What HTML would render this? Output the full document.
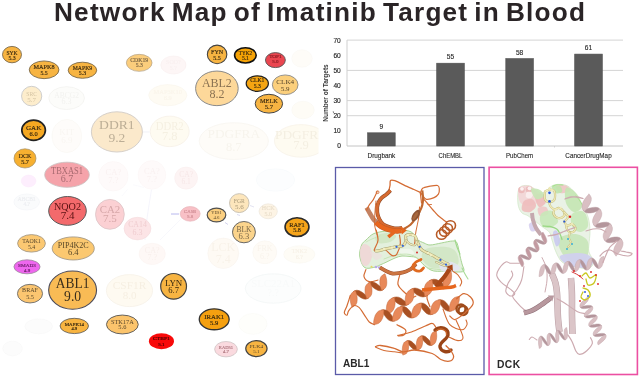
<!DOCTYPE html>
<html><head><meta charset="utf-8"><style>
html,body{margin:0;padding:0;background:#fff;width:640px;height:377px;overflow:hidden}
svg{position:absolute;left:0;top:0;display:block;will-change:transform}
.ser text{font-family:"Liberation Serif",serif;text-anchor:middle}
.sans text{font-family:"Liberation Sans",sans-serif}
</style></head><body>
<svg width="640" height="377" viewBox="0 0 640 377">
<rect width="640" height="377" fill="#fff"/>
<text x="54" y="20.7" font-family="Liberation Sans, sans-serif" font-weight="bold" font-size="26.2" letter-spacing="1.21" word-spacing="-2.5" fill="#2a2426">Network Map of Imatinib Target in Blood</text>
<defs><clipPath id="net"><rect x="0" y="28" width="318.5" height="349"/></clipPath></defs>
<g class="ser" clip-path="url(#net)">
<path d="M151.5,189.5 L149,205 L146.5,222 L145,240" fill="none" stroke="#f0f0fa" stroke-width="0.7"/><path d="M160,240 L168,232 L178,222 L182,218" fill="none" stroke="#f4f4fa" stroke-width="0.6"/><path d="M171,214 L179,214" fill="none" stroke="#b8b8ee" stroke-width="1.0"/><path d="M225,222.5 L228,224.5" fill="none" stroke="#c8c8e8" stroke-width="0.8"/><path d="M237,214.5 L240,215.5" fill="none" stroke="#d0d0ea" stroke-width="0.8"/><path d="M250,205.5 L254,207" fill="none" stroke="#dcdcee" stroke-width="0.8"/><path d="M143,132 L149.5,132" fill="none" stroke="#ececf4" stroke-width="0.7"/><path d="M133,184.7 L144,187.5" fill="none" stroke="#f6f6fb" stroke-width="0.6"/><path d="M127.5,189.4 L122,196" fill="none" stroke="#f6f6fb" stroke-width="0.6"/><path d="M176,224 L168,232" fill="none" stroke="#f6f6fb" stroke-width="0.6"/>
<g><ellipse cx="173.4" cy="65" rx="12.60" ry="9.00" fill="#fdf6f6" stroke="#f9efef" stroke-width="0.6"/><text x="173.4" y="64.01" font-size="6" fill="#f9f0f0" stroke="#f9f0f0" stroke-width="0.15">SOD?</text><text x="173.4" y="69.75" font-size="6" fill="#f9f0f0" stroke="#f9f0f0" stroke-width="0.15">5.?</text></g>
<g><ellipse cx="167.8" cy="95.2" rx="19.10" ry="10.60" fill="#fefbf3" stroke="#f9f5ec" stroke-width="0.6"/><text x="167.8" y="94.13" font-size="6.5" fill="#faf5eb" stroke="#faf5eb" stroke-width="0.15">MAP3K10</text><text x="167.8" y="100.35" font-size="6.5" fill="#faf5eb" stroke="#faf5eb" stroke-width="0.15">6.9</text></g>
<g><ellipse cx="302" cy="58.5" rx="10.25" ry="8.75" fill="#fefcf8" stroke="#f9f6f2" stroke-width="0.5"/></g>
<g><ellipse cx="303" cy="110" rx="11.25" ry="8.75" fill="#fefcf6" stroke="#f9f6f0" stroke-width="0.5"/></g>
<g><ellipse cx="31.65" cy="96.1" rx="10.10" ry="9.80" fill="#fdedcc" stroke="#cacaca" stroke-width="0.9"/><text x="31.65" y="95.80" font-size="7" fill="#d4c4a4" textLength="10.6" lengthAdjust="spacingAndGlyphs">SRC</text><text x="31.65" y="101.70" font-size="7" fill="#d4c4a4">5.7</text></g>
<g><ellipse cx="66.6" cy="98.1" rx="17.85" ry="11.40" fill="#fcfcfa" stroke="#f1f1ee" stroke-width="0.7"/><text x="66.6" y="97.60" font-size="8" fill="#f2f2ef" textLength="24.6" lengthAdjust="spacingAndGlyphs">ABCG2</text><text x="66.6" y="104.00" font-size="8" fill="#f2f2ef">6.3</text></g>
<g><ellipse cx="66.8" cy="136" rx="14.70" ry="16.60" fill="#fefcfa" stroke="#f9f6f2" stroke-width="0.6"/><text x="66.8" y="134.51" font-size="9" fill="#f9f6f2">KIT</text><text x="66.8" y="143.13" font-size="9" fill="#f9f6f2">6.9</text></g>
<g><ellipse cx="169.7" cy="131.4" rx="19.45" ry="15.25" fill="#fefbf1" stroke="#f7f2e9" stroke-width="0.9"/><text x="169.7" y="130.00" font-size="12.5" fill="#f5f0e2" textLength="28.1" lengthAdjust="spacingAndGlyphs">DDR2</text><text x="169.7" y="140.10" font-size="12.5" fill="#f5f0e2">7.8</text></g>
<g><ellipse cx="233.8" cy="141.1" rx="34.60" ry="18.40" fill="#fefcf8" stroke="#f8f5f0" stroke-width="0.8"/><text x="233.8" y="138.00" font-size="12.5" fill="#f7f4ed" textLength="52.5" lengthAdjust="spacingAndGlyphs">PDGFRA</text><text x="233.8" y="151.00" font-size="12.5" fill="#f7f4ed">8.7</text></g>
<g><ellipse cx="301" cy="140.9" rx="26.60" ry="16.30" fill="#fefbf1" stroke="#f7f2ea" stroke-width="0.8"/><text x="301" y="139.10" font-size="12.5" fill="#f4efe2" textLength="52" lengthAdjust="spacingAndGlyphs">PDGFRB</text><text x="301" y="149.20" font-size="12.5" fill="#f4efe2">7.9</text></g>
<g><ellipse cx="28.6" cy="181" rx="7.35" ry="5.95" fill="#fdeefd" stroke="#fbe8fb" stroke-width="0.5"/></g>
<g><ellipse cx="113.4" cy="176.3" rx="14.75" ry="14.75" fill="#fefafa" stroke="#faf4f4" stroke-width="0.5"/><text x="113.4" y="174.90" font-size="8.5" fill="#f9f1f1">CA?</text><text x="113.4" y="183.03" font-size="8.5" fill="#f9f1f1">7.?</text></g>
<g><ellipse cx="151.9" cy="174.9" rx="13.85" ry="14.35" fill="#fefafa" stroke="#faf4f4" stroke-width="0.5"/><text x="151.9" y="173.50" font-size="8.5" fill="#f9f1f1">CA?</text><text x="151.9" y="181.63" font-size="8.5" fill="#f9f1f1">7.?</text></g>
<g><ellipse cx="186.1" cy="178.1" rx="11.45" ry="11.05" fill="#fdf4f4" stroke="#f9eded" stroke-width="0.5"/><text x="186.1" y="176.86" font-size="7.5" fill="#f6e7e7">CA?</text><text x="186.1" y="184.04" font-size="7.5" fill="#f6e7e7">6.1</text></g>
<g><ellipse cx="275.5" cy="180" rx="19.25" ry="11.25" fill="#fcfdfe" stroke="#f5f8fa" stroke-width="0.5"/></g>
<g><ellipse cx="26.7" cy="202" rx="12.85" ry="8.05" fill="#fafbfc" stroke="#f1f3f6" stroke-width="0.5"/><text x="26.7" y="201.09" font-size="5.5" fill="#eceef1" stroke="#eceef1" stroke-width="0.15">ABCB1</text><text x="26.7" y="206.36" font-size="5.5" fill="#eceef1" stroke="#eceef1" stroke-width="0.15">4.?</text></g>
<g><ellipse cx="137.5" cy="228.6" rx="13.40" ry="11.30" fill="#fce4e6" stroke="#f3dadc" stroke-width="0.6"/><text x="137.5" y="227.28" font-size="8" fill="#f0cdd0" textLength="18.7" lengthAdjust="spacingAndGlyphs">CA14</text><text x="137.5" y="234.94" font-size="8" fill="#f0cdd0">6.3</text></g>
<g><ellipse cx="268.2" cy="211.3" rx="9.15" ry="7.45" fill="#fdf4e5" stroke="#ede6dc" stroke-width="0.7"/><text x="268.2" y="210.31" font-size="6" fill="#eadfcc" stroke="#eadfcc" stroke-width="0.15">HCK</text><text x="268.2" y="216.05" font-size="6" fill="#eadfcc" stroke="#eadfcc" stroke-width="0.15">5.0</text></g>
<g><ellipse cx="223.25" cy="253.3" rx="15.45" ry="15.20" fill="#fefaf4" stroke="#f8f3ee" stroke-width="0.6"/><text x="223.25" y="251.32" font-size="12" fill="#f8f2e9">LCK</text><text x="223.25" y="262.80" font-size="12" fill="#f8f2e9">7.4</text></g>
<g><ellipse cx="264.8" cy="252.3" rx="12.00" ry="11.45" fill="#fefbf6" stroke="#f8f4ef" stroke-width="0.5"/><text x="264.8" y="250.98" font-size="8" fill="#f8f3eb">FRK</text><text x="264.8" y="258.64" font-size="8" fill="#f8f3eb">6.?</text></g>
<g><ellipse cx="299.3" cy="254.4" rx="15.65" ry="8.75" fill="#fefcf6" stroke="#f8f6f1" stroke-width="0.5"/><text x="299.3" y="253.41" font-size="6" fill="#f7f2e8" stroke="#f7f2e8" stroke-width="0.15">TNK2</text><text x="299.3" y="259.15" font-size="6" fill="#f7f2e8" stroke="#f7f2e8" stroke-width="0.15">6.?</text></g>
<g><ellipse cx="129.5" cy="290.6" rx="23.10" ry="16.00" fill="#fefaf1" stroke="#f6f1e8" stroke-width="0.8"/><text x="129.5" y="288.79" font-size="11" fill="#f6efe2" textLength="33.4" lengthAdjust="spacingAndGlyphs">CSF1R</text><text x="129.5" y="299.31" font-size="11" fill="#f6efe2">8.0</text></g>
<g><ellipse cx="273.2" cy="288.5" rx="27.80" ry="14.70" fill="#fcfdfd" stroke="#eff3f3" stroke-width="0.6"/><text x="273.2" y="286.85" font-size="10" fill="#f8fafa" textLength="44" lengthAdjust="spacingAndGlyphs">SLC22A1</text><text x="273.2" y="296.42" font-size="10" fill="#f8fafa">?.?</text></g>
<g><ellipse cx="38.7" cy="326.3" rx="13.80" ry="7.50" fill="#fcfcfc" stroke="#f5f5f5" stroke-width="0.4"/></g>
<g><ellipse cx="12.5" cy="348.5" rx="9.80" ry="7.30" fill="#fcfcfc" stroke="#f6f6f6" stroke-width="0.4"/></g>
<g><ellipse cx="252.9" cy="323.9" rx="14.15" ry="10.45" fill="#fefefb" stroke="#f8f8f4" stroke-width="0.5"/></g>
<g><ellipse cx="152.2" cy="253.9" rx="13.15" ry="10.65" fill="#fef8f6" stroke="#faf2f0" stroke-width="0.5"/><text x="152.2" y="252.58" font-size="8" fill="#f8efec">CA?</text><text x="152.2" y="260.24" font-size="8" fill="#f8efec">7.?</text></g>
<g><ellipse cx="12" cy="54.6" rx="9.50" ry="8.20" fill="#f7b442" stroke="#6a5a40" stroke-width="0.8"/><text x="12" y="54.50" font-size="5.8" fill="#35260e" textLength="11.1" lengthAdjust="spacingAndGlyphs" stroke="#35260e" stroke-width="0.15">SYK</text><text x="12" y="59.80" font-size="5.8" fill="#35260e" stroke="#35260e" stroke-width="0.15">5.3</text></g>
<g><ellipse cx="44.1" cy="69.8" rx="14.85" ry="8.85" fill="#f7b442" stroke="#6a5a40" stroke-width="0.8"/><text x="44.1" y="68.90" font-size="5.8" fill="#35260e" textLength="21.2" lengthAdjust="spacingAndGlyphs" stroke="#35260e" stroke-width="0.15">MAPK8</text><text x="44.1" y="74.70" font-size="5.8" fill="#35260e" stroke="#35260e" stroke-width="0.15">5.5</text></g>
<g><ellipse cx="82.45" cy="70.25" rx="14.25" ry="8.05" fill="#f7b442" stroke="#6a5a40" stroke-width="0.8"/><text x="82.45" y="69.80" font-size="5.8" fill="#35260e" textLength="19.5" lengthAdjust="spacingAndGlyphs" stroke="#35260e" stroke-width="0.15">MAPK9</text><text x="82.45" y="74.90" font-size="5.8" fill="#35260e" stroke="#35260e" stroke-width="0.15">5.3</text></g>
<g><ellipse cx="139.2" cy="62.85" rx="12.85" ry="8.50" fill="#fbcd7c" stroke="#b0a088" stroke-width="0.7"/><text x="139.2" y="62.20" font-size="5.6" fill="#7a6444" textLength="17.9" lengthAdjust="spacingAndGlyphs" stroke="#7a6444" stroke-width="0.15">CDK19</text><text x="139.2" y="66.60" font-size="5.6" fill="#7a6444" stroke="#7a6444" stroke-width="0.15">5.3</text></g>
<g><ellipse cx="217.1" cy="54.4" rx="9.75" ry="9.30" fill="#f7b442" stroke="#444" stroke-width="1.1"/><text x="217.1" y="54.00" font-size="6" fill="#35260e" textLength="12.2" lengthAdjust="spacingAndGlyphs" stroke="#35260e" stroke-width="0.15">FYN</text><text x="217.1" y="59.60" font-size="6" fill="#35260e" stroke="#35260e" stroke-width="0.15">5.5</text></g>
<g><ellipse cx="245.4" cy="55.35" rx="10.80" ry="7.65" fill="#f5a205" stroke="#111" stroke-width="1.6"/><text x="245.4" y="54.90" font-size="5.6" fill="#35260e" textLength="13.1" lengthAdjust="spacingAndGlyphs" stroke="#35260e" stroke-width="0.15">TYK2</text><text x="245.4" y="60.00" font-size="5.6" fill="#35260e" stroke="#35260e" stroke-width="0.15">5.1</text></g>
<g><ellipse cx="275.4" cy="60.1" rx="9.95" ry="7.50" fill="#ea4650" stroke="#555" stroke-width="0.9"/><text x="275.4" y="57.60" font-size="5" fill="#8a1a22" textLength="12.4" lengthAdjust="spacingAndGlyphs" stroke="#8a1a22" stroke-width="0.15">TOP1</text><text x="275.4" y="63.10" font-size="5" fill="#8a1a22" stroke="#8a1a22" stroke-width="0.15">5.0</text></g>
<g><ellipse cx="216.9" cy="88.35" rx="21.30" ry="17.30" fill="#fdd89a" stroke="#8a8a8a" stroke-width="1.0"/><text x="216.9" y="86.90" font-size="12" fill="#8a7252" textLength="29.9" lengthAdjust="spacingAndGlyphs">ABL2</text><text x="216.9" y="97.60" font-size="12" fill="#8a7252">8.2</text></g>
<g><ellipse cx="257.3" cy="83.6" rx="11.10" ry="7.80" fill="#f5a512" stroke="#222" stroke-width="1.2"/><text x="257.3" y="82.10" font-size="5.6" fill="#35260e" textLength="14.2" lengthAdjust="spacingAndGlyphs" stroke="#35260e" stroke-width="0.15">CLK1</text><text x="257.3" y="87.60" font-size="5.6" fill="#35260e" stroke="#35260e" stroke-width="0.15">5.3</text></g>
<g><ellipse cx="285.2" cy="84.8" rx="12.85" ry="9.85" fill="#fbcf7c" stroke="#8a8a8a" stroke-width="0.9"/><text x="285.2" y="84.30" font-size="7" fill="#56452a" textLength="18" lengthAdjust="spacingAndGlyphs">CLK4</text><text x="285.2" y="90.70" font-size="7" fill="#56452a">5.9</text></g>
<g><ellipse cx="268.9" cy="103.7" rx="13.70" ry="9.40" fill="#f7b442" stroke="#444" stroke-width="1.0"/><text x="268.9" y="103.20" font-size="6.6" fill="#35260e" textLength="18" lengthAdjust="spacingAndGlyphs" stroke="#35260e" stroke-width="0.15">MELK</text><text x="268.9" y="109.20" font-size="6.6" fill="#35260e" stroke="#35260e" stroke-width="0.15">5.7</text></g>
<g><ellipse cx="33.6" cy="130.3" rx="11.80" ry="10.10" fill="#f5a822" stroke="#222" stroke-width="1.7"/><text x="33.6" y="129.90" font-size="6.4" fill="#35260e" textLength="15.4" lengthAdjust="spacingAndGlyphs" stroke="#35260e" stroke-width="0.15">GAK</text><text x="33.6" y="135.90" font-size="6.4" fill="#35260e" stroke="#35260e" stroke-width="0.15">6.0</text></g>
<g><ellipse cx="25" cy="158.4" rx="11.00" ry="9.60" fill="#f7b030" stroke="#a09070" stroke-width="0.7"/><text x="25" y="157.80" font-size="6.2" fill="#35260e" textLength="12.5" lengthAdjust="spacingAndGlyphs" stroke="#35260e" stroke-width="0.15">DCK</text><text x="25" y="163.80" font-size="6.2" fill="#35260e" stroke="#35260e" stroke-width="0.15">5.7</text></g>
<g><ellipse cx="116.9" cy="131.9" rx="25.50" ry="20.10" fill="#fbe9cb" stroke="#d6d0ca" stroke-width="1.0"/><text x="116.9" y="128.50" font-size="13.5" fill="#bcae96" textLength="35.6" lengthAdjust="spacingAndGlyphs">DDR1</text><text x="116.9" y="141.60" font-size="13.5" fill="#bcae96">9.2</text></g>
<g><ellipse cx="67" cy="174.75" rx="22.30" ry="12.55" fill="#f5a3aa" stroke="#c8bcbc" stroke-width="0.8"/><text x="67" y="173.80" font-size="10" fill="#a86a70" textLength="31.9" lengthAdjust="spacingAndGlyphs">TBXAS1</text><text x="67" y="181.60" font-size="10" fill="#a86a70">6.7</text></g>
<g><ellipse cx="67.5" cy="210.9" rx="18.80" ry="14.40" fill="#f36a6c" stroke="#5a5a5a" stroke-width="1.0"/><text x="67.5" y="210.30" font-size="11" fill="#5a1212" textLength="27" lengthAdjust="spacingAndGlyphs">NQO2</text><text x="67.5" y="218.80" font-size="11" fill="#5a1212">7.4</text></g>
<g><ellipse cx="109.9" cy="214.35" rx="14.40" ry="14.95" fill="#fbd0d3" stroke="#dcc4c6" stroke-width="0.8"/><text x="109.9" y="212.60" font-size="11" fill="#d6a6a8" textLength="20.4" lengthAdjust="spacingAndGlyphs">CA2</text><text x="109.9" y="222.40" font-size="11" fill="#d6a6a8">7.5</text></g>
<g><ellipse cx="31.5" cy="243.35" rx="13.90" ry="8.75" fill="#fbc872" stroke="#9a9080" stroke-width="0.8"/><text x="31.5" y="243.00" font-size="5.8" fill="#56452a" textLength="18.6" lengthAdjust="spacingAndGlyphs">TAOK1</text><text x="31.5" y="248.80" font-size="5.8" fill="#56452a">5.4</text></g>
<g><ellipse cx="73.25" cy="248.45" rx="21.05" ry="11.55" fill="#fbc870" stroke="#9a9080" stroke-width="0.8"/><text x="73.25" y="247.80" font-size="8.6" fill="#5a4828" textLength="31" lengthAdjust="spacingAndGlyphs">PIP4K2C</text><text x="73.25" y="255.40" font-size="8.6" fill="#5a4828">6.4</text></g>
<g><ellipse cx="27" cy="266.8" rx="13.05" ry="7.00" fill="#ee66ee" stroke="#9a8a9a" stroke-width="0.8"/><text x="27" y="266.60" font-size="5" fill="#6a1e6a" textLength="17.9" lengthAdjust="spacingAndGlyphs" stroke="#6a1e6a" stroke-width="0.15">SMAD3</text><text x="27" y="271.60" font-size="5" fill="#6a1e6a" stroke="#6a1e6a" stroke-width="0.15">4.9</text></g>
<g><ellipse cx="190.2" cy="213.85" rx="9.95" ry="7.30" fill="#f8c0c6" stroke="#e6b4ba" stroke-width="0.7"/><text x="190.2" y="213.00" font-size="5" fill="#d08c94" textLength="12.2" lengthAdjust="spacingAndGlyphs" stroke="#d08c94" stroke-width="0.15">CA5B</text><text x="190.2" y="217.80" font-size="5" fill="#d08c94" stroke="#d08c94" stroke-width="0.15">5.8</text></g>
<g><ellipse cx="216.5" cy="215" rx="9.30" ry="6.95" fill="#fbcf80" stroke="#505050" stroke-width="1.2"/><text x="216.5" y="214.40" font-size="4.8" fill="#56452a" textLength="10.6" lengthAdjust="spacingAndGlyphs">YES1</text><text x="216.5" y="219.00" font-size="4.8" fill="#56452a">4.6</text></g>
<g><ellipse cx="239.3" cy="203.1" rx="9.75" ry="9.45" fill="#fde6bc" stroke="#c4bcae" stroke-width="0.9"/><text x="239.3" y="202.70" font-size="7" fill="#a89878" textLength="11.1" lengthAdjust="spacingAndGlyphs">FGR</text><text x="239.3" y="208.60" font-size="7" fill="#a89878">5.6</text></g>
<g><ellipse cx="243.95" cy="232.15" rx="11.45" ry="10.65" fill="#fbd48c" stroke="#666" stroke-width="1.0"/><text x="243.95" y="232.10" font-size="8.6" fill="#7a6848" textLength="15.1" lengthAdjust="spacingAndGlyphs">BLK</text><text x="243.95" y="238.70" font-size="8.6" fill="#7a6848">6.3</text></g>
<g><ellipse cx="297" cy="227.1" rx="11.95" ry="9.40" fill="#f5a41a" stroke="#2a2a2a" stroke-width="1.6"/><text x="297" y="226.80" font-size="6.2" fill="#35260e" textLength="15.6" lengthAdjust="spacingAndGlyphs" stroke="#35260e" stroke-width="0.15">RAF1</text><text x="297" y="232.40" font-size="6.2" fill="#35260e" stroke="#35260e" stroke-width="0.15">5.8</text></g>
<g><ellipse cx="30" cy="293.65" rx="12.55" ry="9.30" fill="#fbc570" stroke="#6a6a6a" stroke-width="0.9"/><text x="30" y="292.30" font-size="6.2" fill="#56452a" textLength="15.8" lengthAdjust="spacingAndGlyphs">BRAF</text><text x="30" y="298.80" font-size="6.2" fill="#56452a">5.5</text></g>
<g><ellipse cx="72.6" cy="290.1" rx="23.95" ry="19.15" fill="#f9bb55" stroke="#4a4a5a" stroke-width="1.1"/><text x="72.6" y="288.30" font-size="13.6" fill="#3a2e1c" textLength="33.5" lengthAdjust="spacingAndGlyphs">ABL1</text><text x="72.6" y="300.80" font-size="13.6" fill="#3a2e1c">9.0</text></g>
<g><ellipse cx="173.6" cy="286.35" rx="12.90" ry="12.85" fill="#f7b442" stroke="#444" stroke-width="1.2"/><text x="173.6" y="285.50" font-size="8.6" fill="#35260e" textLength="17.4" lengthAdjust="spacingAndGlyphs">LYN</text><text x="173.6" y="293.20" font-size="8.6" fill="#35260e">6.7</text></g>
<g><ellipse cx="74.3" cy="325.95" rx="14.20" ry="7.65" fill="#f8b440" stroke="#555" stroke-width="0.8"/><text x="74.3" y="325.50" font-size="4.6" fill="#35260e" textLength="19.1" lengthAdjust="spacingAndGlyphs" stroke="#35260e" stroke-width="0.15">MAPK14</text><text x="74.3" y="330.30" font-size="4.6" fill="#35260e" stroke="#35260e" stroke-width="0.15">4.9</text></g>
<g><ellipse cx="122.35" cy="324.5" rx="15.90" ry="9.45" fill="#fbc46c" stroke="#555" stroke-width="0.9"/><text x="122.35" y="323.70" font-size="6.4" fill="#56452a" textLength="22.7" lengthAdjust="spacingAndGlyphs">STK17A</text><text x="122.35" y="329.20" font-size="6.4" fill="#56452a">5.6</text></g>
<g><ellipse cx="161.45" cy="341.2" rx="12.55" ry="8" fill="#f80a0a"/><text x="161.45" y="340.40" font-size="5" fill="#4a0000" textLength="16.7" lengthAdjust="spacingAndGlyphs" stroke="#4a0000" stroke-width="0.15">CTBP1</text><text x="161.45" y="345.90" font-size="5" fill="#4a0000" stroke="#4a0000" stroke-width="0.15">5.1</text></g>
<g><ellipse cx="214.2" cy="319.3" rx="14.95" ry="10.45" fill="#f5a010" stroke="#333" stroke-width="1.3"/><text x="214.2" y="318.90" font-size="6.6" fill="#35260e" textLength="20" lengthAdjust="spacingAndGlyphs" stroke="#35260e" stroke-width="0.15">IRAK1</text><text x="214.2" y="324.90" font-size="6.6" fill="#35260e" stroke="#35260e" stroke-width="0.15">5.9</text></g>
<g><ellipse cx="226" cy="349.2" rx="11.35" ry="7.70" fill="#fadadf" stroke="#c8c0c0" stroke-width="0.7"/><text x="226" y="349.00" font-size="4.8" fill="#b07880" textLength="14.3" lengthAdjust="spacingAndGlyphs" stroke="#b07880" stroke-width="0.15">RAD51</text><text x="226" y="353.40" font-size="4.8" fill="#b07880" stroke="#b07880" stroke-width="0.15">4.7</text></g>
<g><ellipse cx="256.4" cy="348.6" rx="10.65" ry="8.00" fill="#f7b442" stroke="#444" stroke-width="1.2"/><text x="256.4" y="348.00" font-size="5" fill="#56452a" textLength="13.7" lengthAdjust="spacingAndGlyphs">PLK4</text><text x="256.4" y="352.80" font-size="5" fill="#56452a">5.1</text></g>
</g>
<g class="sans">
<line x1="347" x2="623" y1="40.1" y2="40.1" stroke="#d4d4d4" stroke-width="1"/><line x1="347" x2="623" y1="70.4" y2="70.4" stroke="#d4d4d4" stroke-width="1"/><line x1="347" x2="623" y1="100.6" y2="100.6" stroke="#d4d4d4" stroke-width="1"/><line x1="347" x2="623" y1="115.7" y2="115.7" stroke="#d4d4d4" stroke-width="1"/><line x1="347" x2="347" y1="40.1" y2="146.0" stroke="#cfcfcf" stroke-width="1"/><line x1="347" x2="623" y1="146.0" y2="146.0" stroke="#c4c4c4" stroke-width="1"/><line x1="554.5" x2="554.5" y1="146.0" y2="147.5" stroke="#c8c8c8" stroke-width="0.8"/><rect x="367.6" y="132.8" width="27.6" height="13.2" fill="#5a5a5a" stroke="#4c4c4c" stroke-width="0.6"/><text x="381.4" y="128.9" font-size="6.6" fill="#262626" text-anchor="middle" stroke="#262626" stroke-width="0.12">9</text><text x="381.4" y="157.8" font-size="7" fill="#262626" text-anchor="middle" textLength="27.8" lengthAdjust="spacingAndGlyphs" stroke="#262626" stroke-width="0.12">Drugbank</text><rect x="436.7" y="63.2" width="27.6" height="82.8" fill="#5a5a5a" stroke="#4c4c4c" stroke-width="0.6"/><text x="450.5" y="59.3" font-size="6.6" fill="#262626" text-anchor="middle" stroke="#262626" stroke-width="0.12">55</text><text x="450.5" y="157.8" font-size="7" fill="#262626" text-anchor="middle" textLength="23.8" lengthAdjust="spacingAndGlyphs" stroke="#262626" stroke-width="0.12">ChEMBL</text><rect x="505.8" y="58.6" width="27.6" height="87.4" fill="#5a5a5a" stroke="#4c4c4c" stroke-width="0.6"/><text x="519.6" y="54.7" font-size="6.6" fill="#262626" text-anchor="middle" stroke="#262626" stroke-width="0.12">58</text><text x="519.6" y="157.8" font-size="7" fill="#262626" text-anchor="middle" textLength="27.1" lengthAdjust="spacingAndGlyphs" stroke="#262626" stroke-width="0.12">PubChem</text><rect x="574.7" y="54.1" width="27.6" height="91.9" fill="#5a5a5a" stroke="#4c4c4c" stroke-width="0.6"/><text x="588.5" y="50.2" font-size="6.6" fill="#262626" text-anchor="middle" stroke="#262626" stroke-width="0.12">61</text><text x="588.5" y="157.8" font-size="7" fill="#262626" text-anchor="middle" textLength="46.3" lengthAdjust="spacingAndGlyphs" stroke="#262626" stroke-width="0.12">CancerDrugMap</text><text x="340.8" y="148.4" font-size="6.6" fill="#262626" text-anchor="end" stroke="#262626" stroke-width="0.15">0</text><text x="340.8" y="133.3" font-size="6.6" fill="#262626" text-anchor="end" stroke="#262626" stroke-width="0.15">10</text><text x="340.8" y="118.1" font-size="6.6" fill="#262626" text-anchor="end" stroke="#262626" stroke-width="0.15">20</text><text x="340.8" y="103.0" font-size="6.6" fill="#262626" text-anchor="end" stroke="#262626" stroke-width="0.15">30</text><text x="340.8" y="87.9" font-size="6.6" fill="#262626" text-anchor="end" stroke="#262626" stroke-width="0.15">40</text><text x="340.8" y="72.8" font-size="6.6" fill="#262626" text-anchor="end" stroke="#262626" stroke-width="0.15">50</text><text x="340.8" y="57.6" font-size="6.6" fill="#262626" text-anchor="end" stroke="#262626" stroke-width="0.15">60</text><text x="340.8" y="42.5" font-size="6.6" fill="#262626" text-anchor="end" stroke="#262626" stroke-width="0.15">70</text><text transform="translate(328,93) rotate(-90)" font-size="6.4" font-weight="bold" fill="#3a3a3a" text-anchor="middle" textLength="57.5" lengthAdjust="spacingAndGlyphs">Number of Targets</text><path d="M333.2,111.2 l0.4,2" stroke="#555" stroke-width="0.7"/>
</g>
<g><path d="M361.6,245.0 C362.7,242.3 364.0,241.9 366.0,240.0 C368.0,238.1 370.5,235.1 373.8,233.6 C377.1,232.1 382.0,231.6 386.0,231.0 C390.0,230.4 393.8,229.9 398.0,230.0 C402.2,230.1 407.8,230.2 411.0,231.8 C414.2,233.4 414.8,237.4 417.0,239.3 C419.2,241.2 421.8,242.1 424.0,243.0 C426.2,243.9 427.1,245.0 430.0,245.0 C432.9,245.0 437.5,243.7 441.3,243.0 C445.1,242.3 450.0,241.0 452.6,241.0 C455.2,241.0 455.8,240.5 457.0,243.0 C458.2,245.5 459.2,252.5 460.0,256.0 C460.8,259.5 461.4,261.5 462.0,264.0 C462.6,266.5 464.8,269.7 463.8,271.0 C462.8,272.3 458.5,272.0 456.0,272.0 C453.5,272.0 452.5,271.2 448.8,271.0 C445.1,270.8 437.9,271.9 433.8,271.0 C429.7,270.1 427.2,267.7 424.4,265.5 C421.6,263.3 419.4,259.5 417.0,258.0 C414.6,256.5 412.5,256.8 410.0,256.5 C407.5,256.2 404.5,255.8 402.0,256.0 C399.5,256.2 397.5,257.0 395.0,258.0 C392.5,259.0 389.5,260.6 387.0,261.8 C384.5,263.0 382.2,264.1 380.0,265.0 C377.8,265.9 376.4,267.0 373.8,267.4 C371.2,267.8 366.8,269.3 364.4,267.4 C362.0,265.5 360.2,259.7 359.7,256.0 C359.2,252.3 360.6,247.7 361.6,245.0Z" fill="#e3f0dd" stroke="#a8d494" stroke-width="1.0" opacity="1"/><path d="M360.0,250.0 C360.3,246.7 362.3,244.5 364.0,244.0 C365.7,243.5 368.7,245.0 370.0,247.0 C371.3,249.0 372.3,253.0 372.0,256.0 C371.7,259.0 369.7,263.7 368.0,265.0 C366.3,266.3 363.3,266.5 362.0,264.0 C360.7,261.5 359.7,253.3 360.0,250.0Z" fill="#f0d6d6" stroke="none" stroke-width="0" opacity="0.9"/><path d="M376.0,236.0 C377.7,234.3 384.7,233.0 388.0,233.0 C391.3,233.0 395.7,234.5 396.0,236.0 C396.3,237.5 393.0,240.8 390.0,242.0 C387.0,243.2 380.3,244.0 378.0,243.0 C375.7,242.0 374.3,237.7 376.0,236.0Z" fill="#cfe6c2" stroke="none" stroke-width="0" opacity="0.9"/><path d="M426.0,249.0 C430.0,247.2 441.0,246.5 446.0,247.0 C451.0,247.5 454.0,249.2 456.0,252.0 C458.0,254.8 459.7,261.3 458.0,264.0 C456.3,266.7 450.7,267.5 446.0,268.0 C441.3,268.5 434.0,268.7 430.0,267.0 C426.0,265.3 422.7,261.0 422.0,258.0 C421.3,255.0 422.0,250.8 426.0,249.0Z" fill="#d0e6c4" stroke="none" stroke-width="0" opacity="0.9"/><path d="M398.0,250.0 C399.0,249.0 407.3,248.3 410.0,249.0 C412.7,249.7 415.0,253.0 414.0,254.0 C413.0,255.0 406.7,255.7 404.0,255.0 C401.3,254.3 397.0,251.0 398.0,250.0Z" fill="#f0f6ec" stroke="none" stroke-width="0" opacity="0.9"/><path d="M370.0,252.0 C371.0,251.2 381.0,253.7 382.0,255.0 C383.0,256.3 378.0,260.5 376.0,260.0 C374.0,259.5 369.0,252.8 370.0,252.0Z" fill="#eedede" stroke="none" stroke-width="0" opacity="0.7"/><path d="M366.0,242.0 C367.0,241.5 369.7,240.0 372.0,239.0 C374.3,238.0 378.7,236.5 380.0,236.0" fill="none" stroke="#c4e4b4" stroke-width="0.8" stroke-linecap="round" stroke-linejoin="round" opacity="1"/><path d="M384.0,259.0 C386.0,258.3 391.7,255.8 396.0,255.0 C400.3,254.2 406.0,253.7 410.0,254.5 C414.0,255.3 418.3,259.1 420.0,260.0" fill="none" stroke="#c2e2b0" stroke-width="0.9" stroke-linecap="round" stroke-linejoin="round" opacity="1"/><path d="M428.0,268.0 C430.0,268.2 436.0,269.5 440.0,269.5 C444.0,269.5 450.0,268.2 452.0,268.0" fill="none" stroke="#c2e2b0" stroke-width="0.9" stroke-linecap="round" stroke-linejoin="round" opacity="1"/><path d="M455.0,240.0 C455.3,241.2 456.2,244.7 457.0,247.0 C457.8,249.3 459.5,252.8 460.0,254.0" fill="none" stroke="#9ed88a" stroke-width="1.1" stroke-linecap="round" stroke-linejoin="round" opacity="1"/><path d="M462.0,268.0 C462.5,269.0 464.0,272.2 465.0,274.0 C466.0,275.8 467.5,278.2 468.0,279.0" fill="none" stroke="#a8dc98" stroke-width="1.1" stroke-linecap="round" stroke-linejoin="round" opacity="1"/><path d="M440.0,264.0 C441.7,262.5 448.7,261.3 452.0,262.0 C455.3,262.7 460.0,266.3 460.0,268.0 C460.0,269.7 455.0,271.5 452.0,272.0 C449.0,272.5 444.0,272.3 442.0,271.0 C440.0,269.7 438.3,265.5 440.0,264.0Z" fill="#e4e4f6" stroke="none" stroke-width="0" opacity="0.8"/><path d="M388.8,191.0 C389.0,190.1 389.7,187.2 390.0,185.5 C390.3,183.8 389.7,181.3 390.5,180.5 C391.3,179.7 392.1,179.7 394.8,180.7 C397.5,181.7 403.7,184.9 406.9,186.4 C410.1,187.9 411.8,188.5 414.0,189.5 C416.2,190.5 419.2,191.9 420.3,192.4" fill="none" stroke="#d46c34" stroke-width="1.3" stroke-linecap="round" stroke-linejoin="round" opacity="1"/><path d="M420.3,193.0 C420.7,192.2 421.4,189.2 422.9,188.1 C424.3,187.0 426.6,186.8 429.0,186.4 C431.4,186.0 435.9,185.1 437.6,185.5 C439.3,185.9 439.2,187.6 439.3,189.0 C439.4,190.4 439.3,192.7 438.4,194.1 C437.5,195.5 436.1,196.7 434.1,197.6 C432.1,198.5 428.3,199.6 426.4,199.3 C424.5,199.0 423.8,197.1 422.9,196.0 C422.0,194.9 421.3,193.5 421.0,193.0" fill="none" stroke="#d46c34" stroke-width="1.2" stroke-linecap="round" stroke-linejoin="round" opacity="1"/><path d="M420.3,192.4 C420.4,193.2 420.6,195.2 420.8,197.0 C421.0,198.8 421.4,202.0 421.5,203.0" fill="none" stroke="#d46c34" stroke-width="1.2" stroke-linecap="round" stroke-linejoin="round" opacity="1"/><path d="M424.0,199.5 C424.7,200.2 426.5,202.2 428.0,204.0 C429.5,205.8 431.3,208.1 433.0,210.0 C434.7,211.9 436.3,213.9 438.0,215.5 C439.7,217.1 441.6,218.4 443.0,219.5 C444.4,220.6 445.9,221.6 446.5,222.0" fill="none" stroke="#d46c34" stroke-width="1.2" stroke-linecap="round" stroke-linejoin="round" opacity="1"/><path d="M428.0,204.5 C428.6,204.5 430.9,204.5 431.5,204.5" fill="none" stroke="#d46c34" stroke-width="0.9" stroke-linecap="round" stroke-linejoin="round" opacity="1"/><path d="M419.5,207.0 C419.3,209.0 419.1,215.0 418.5,219.0 C417.9,223.0 416.7,226.8 416.0,231.0 C415.3,235.2 414.8,241.8 414.5,244.0" fill="none" stroke="#d46c34" stroke-width="1.0" stroke-linecap="round" stroke-linejoin="round" opacity="1"/><ellipse cx="450.5" cy="225.5" rx="5.0" ry="4.8" fill="none" stroke="#b85a26" stroke-width="1.6" transform="rotate(0 450.5 225.5)"/><ellipse cx="447.5" cy="228.5" rx="5.0" ry="4.8" fill="none" stroke="#b85a26" stroke-width="1.6" transform="rotate(0 447.5 228.5)"/><ellipse cx="444.5" cy="231.5" rx="5.0" ry="4.8" fill="none" stroke="#b85a26" stroke-width="1.6" transform="rotate(0 444.5 231.5)"/><ellipse cx="441.5" cy="234.5" rx="5.0" ry="4.8" fill="none" stroke="#b85a26" stroke-width="1.6" transform="rotate(0 441.5 234.5)"/><circle cx="377.6" cy="192.2" r="1.4" fill="none" stroke="#d46c34" stroke-width="0.9"/><path d="M390.5,190.3 C389.8,191.0 388.1,193.0 386.5,194.3 C384.9,195.6 382.5,197.0 381.2,198.3 C379.9,199.6 379.3,200.7 378.6,202.2 C377.9,203.7 377.3,205.3 377.2,207.5 C377.1,209.7 377.2,213.1 377.9,215.5 C378.6,217.9 379.8,220.3 381.2,222.1 C382.6,223.9 384.3,225.1 386.5,226.1 C388.7,227.1 391.9,228.0 394.5,228.3 C397.1,228.6 400.8,228.1 402.0,228.0" fill="none" stroke="#8a4a28" stroke-width="3.8" stroke-linecap="butt" stroke-linejoin="round"/><path d="M390.5,190.3 C389.8,191.0 388.1,193.0 386.5,194.3 C384.9,195.6 382.5,197.0 381.2,198.3 C379.9,199.6 379.3,200.7 378.6,202.2 C377.9,203.7 377.3,205.3 377.2,207.5 C377.1,209.7 377.2,213.1 377.9,215.5 C378.6,217.9 379.8,220.3 381.2,222.1 C382.6,223.9 384.3,225.1 386.5,226.1 C388.7,227.1 391.9,228.0 394.5,228.3 C397.1,228.6 400.8,228.1 402.0,228.0" fill="none" stroke="#d66a30" stroke-width="2.8" stroke-linecap="butt" stroke-linejoin="round"/><path d="M366.6,207.5 C367.2,208.5 368.9,211.6 370.0,213.5 C371.1,215.4 372.1,217.5 373.3,219.0 C374.5,220.5 376.4,221.9 377.0,222.5" fill="none" stroke="#c48262" stroke-width="4.6" stroke-linecap="butt" stroke-linejoin="round"/><path d="M376.0,222.5 C376.8,223.2 379.2,225.4 381.0,226.5 C382.8,227.6 384.0,228.2 386.5,229.0 C389.0,229.8 393.3,230.7 395.8,231.0 C398.3,231.3 400.6,230.7 401.5,230.6" fill="none" stroke="#c05a22" stroke-width="5.2" stroke-linecap="butt" stroke-linejoin="round"/><path d="M376.0,222.5 C376.8,223.2 379.2,225.4 381.0,226.5 C382.8,227.6 384.0,228.2 386.5,229.0 C389.0,229.8 393.3,230.7 395.8,231.0 C398.3,231.3 400.6,230.7 401.5,230.6" fill="none" stroke="#e8661e" stroke-width="4.2" stroke-linecap="butt" stroke-linejoin="round"/><polygon points="401.8,234.6 406.9,230.2 401.2,226.6" fill="#e8661e"/><path d="M403.8,229.0 C404.9,228.3 408.4,226.6 410.4,224.8 C412.4,223.0 414.1,220.4 415.7,218.2 C417.2,216.0 418.6,213.7 419.7,211.5 C420.8,209.3 421.8,207.1 422.3,204.9 C422.9,202.7 423.0,200.7 423.0,198.3 C423.0,195.9 422.4,191.6 422.3,190.3" fill="none" stroke="#c06830" stroke-width="2.2" stroke-linecap="butt" stroke-linejoin="round"/><ellipse cx="415.8" cy="215.5" rx="3.2" ry="6.5" fill="#8e5434" transform="rotate(32 415.8 215.5)"/><ellipse cx="415.3" cy="216" rx="1.6" ry="4.5" fill="#a8683e" transform="rotate(32 415.3 216)"/><path d="M377.2,191.6 C376.6,192.9 374.6,197.4 373.3,199.6 C372.0,201.8 370.4,203.1 369.3,204.9 C368.2,206.7 367.1,209.3 366.6,210.2" fill="none" stroke="#d46c34" stroke-width="1.1" stroke-linecap="round" stroke-linejoin="round" opacity="1"/><path d="M376.0,201.0 C375.8,202.8 375.2,208.0 375.0,212.0 C374.8,216.0 374.2,221.0 374.6,224.8 C375.0,228.6 376.8,233.3 377.2,235.0" fill="none" stroke="#d46c34" stroke-width="1.0" stroke-linecap="round" stroke-linejoin="round" opacity="1"/><path d="M388.3,237.0 C388.9,236.5 390.8,235.0 392.0,234.0 C393.2,233.0 394.9,231.5 395.5,231.0" fill="none" stroke="#e6661e" stroke-width="3.5" stroke-linecap="butt" stroke-linejoin="round"/><path d="M376.2,230.0 C376.5,231.7 378.2,237.3 378.0,240.3 C377.8,243.3 375.6,246.3 375.0,248.0 C374.4,249.7 373.7,250.2 374.5,250.7 C375.3,251.2 378.0,251.2 379.7,251.0 C381.4,250.8 383.1,249.0 384.8,249.5 C386.5,250.0 388.6,252.9 390.0,254.0 C391.4,255.1 392.2,255.9 393.4,255.9 C394.5,255.9 395.8,256.0 396.9,254.0 C398.0,252.0 399.9,247.0 400.3,243.8 C400.7,240.6 399.6,236.5 399.5,235.0" fill="none" stroke="#d46c34" stroke-width="1.2" stroke-linecap="round" stroke-linejoin="round" opacity="1"/><path d="M376.0,251.0 C376.7,250.9 378.5,250.8 380.0,250.5 C381.5,250.2 383.3,249.4 385.0,249.0 C386.7,248.6 388.2,248.4 390.0,248.0 C391.8,247.6 393.9,247.2 396.0,246.8 C398.1,246.4 401.1,246.8 402.8,245.8 C404.5,244.8 405.5,242.6 406.0,241.0 C406.5,239.4 405.0,237.1 405.7,236.0 C406.4,234.9 408.4,234.5 410.0,234.5 C411.6,234.5 413.8,234.9 415.0,236.0 C416.2,237.1 416.2,239.2 417.0,241.0 C417.8,242.8 418.9,245.3 419.7,246.8 C420.5,248.3 420.9,249.1 422.0,250.0 C423.1,250.9 425.0,251.7 426.3,252.4 C427.6,253.1 428.8,253.4 430.0,254.0 C431.2,254.6 432.6,255.3 433.8,256.0 C435.0,256.7 435.9,257.4 437.0,258.0 C438.1,258.6 439.1,259.1 440.4,259.9 C441.7,260.7 443.7,262.0 445.0,262.7 C446.3,263.4 447.5,263.8 448.0,264.0" fill="none" stroke="#a8a070" stroke-width="3.0" stroke-linecap="round" stroke-linejoin="round" opacity="1"/><path d="M376.0,251.0 C376.7,250.9 378.5,250.8 380.0,250.5 C381.5,250.2 383.3,249.4 385.0,249.0 C386.7,248.6 388.2,248.4 390.0,248.0 C391.8,247.6 393.9,247.2 396.0,246.8 C398.1,246.4 401.1,246.8 402.8,245.8 C404.5,244.8 405.5,242.6 406.0,241.0 C406.5,239.4 405.0,237.1 405.7,236.0 C406.4,234.9 408.4,234.5 410.0,234.5 C411.6,234.5 413.8,234.9 415.0,236.0 C416.2,237.1 416.2,239.2 417.0,241.0 C417.8,242.8 418.9,245.3 419.7,246.8 C420.5,248.3 420.9,249.1 422.0,250.0 C423.1,250.9 425.0,251.7 426.3,252.4 C427.6,253.1 428.8,253.4 430.0,254.0 C431.2,254.6 432.6,255.3 433.8,256.0 C435.0,256.7 435.9,257.4 437.0,258.0 C438.1,258.6 439.1,259.1 440.4,259.9 C441.7,260.7 443.7,262.0 445.0,262.7 C446.3,263.4 447.5,263.8 448.0,264.0" fill="none" stroke="#ece6b0" stroke-width="2.0" stroke-linecap="round" stroke-linejoin="round" opacity="1"/><path d="M405.7,240.0 C406.4,240.7 408.4,243.2 410.0,244.0 C411.6,244.8 413.8,245.5 415.0,245.0 C416.2,244.5 416.7,241.7 417.0,241.0" fill="none" stroke="#a8a070" stroke-width="2.0" stroke-linecap="round" stroke-linejoin="round" opacity="1"/><path d="M405.7,240.0 C406.4,240.7 408.4,243.2 410.0,244.0 C411.6,244.8 413.8,245.5 415.0,245.0 C416.2,244.5 416.7,241.7 417.0,241.0" fill="none" stroke="#f0ecbe" stroke-width="1.2" stroke-linecap="round" stroke-linejoin="round" opacity="1"/><path d="M436.0,262.0 C436.8,262.4 439.3,263.8 441.0,264.5 C442.7,265.2 445.2,265.8 446.0,266.0" fill="none" stroke="#a8a070" stroke-width="2.0" stroke-linecap="round" stroke-linejoin="round" opacity="1"/><path d="M436.0,262.0 C436.8,262.4 439.3,263.8 441.0,264.5 C442.7,265.2 445.2,265.8 446.0,266.0" fill="none" stroke="#f0ecbe" stroke-width="1.2" stroke-linecap="round" stroke-linejoin="round" opacity="1"/><circle cx="384.0" cy="249.0" r="1.1" fill="#f4f0c8"/><circle cx="392.0" cy="247.7" r="1.1" fill="#f4f0c8"/><circle cx="408.0" cy="235.0" r="1.1" fill="#f4f0c8"/><circle cx="413.0" cy="235.5" r="1.1" fill="#f4f0c8"/><circle cx="428.0" cy="253.0" r="1.1" fill="#f4f0c8"/><circle cx="431.0" cy="255.0" r="1.1" fill="#f4f0c8"/><circle cx="396.5" cy="246.8" r="1.15" fill="#2e64e0"/><circle cx="402.8" cy="245.8" r="1.15" fill="#2e64e0"/><circle cx="419.7" cy="246.8" r="1.15" fill="#2e64e0"/><circle cx="440.4" cy="259.9" r="1.15" fill="#2e64e0"/><circle cx="446.0" cy="264.6" r="1.15" fill="#2e64e0"/><circle cx="417.0" cy="252.4" r="1.0" fill="#d83030"/><circle cx="376.0" cy="267.0" r="1.2" fill="#b8a8e8"/><circle cx="379.0" cy="267.5" r="1.2" fill="#b8a8e8"/><circle cx="371.5" cy="266.8" r="1.0" fill="#e8d860"/><path d="M365.9,269.7 C365.6,270.9 363.4,274.6 364.0,276.6 C364.6,278.6 367.0,281.1 369.3,281.7 C371.6,282.3 376.6,280.3 378.0,280.0" fill="none" stroke="#d46c34" stroke-width="1.2" stroke-linecap="round" stroke-linejoin="round" opacity="1"/><path d="M380.0,267.5 C381.0,268.1 383.9,270.0 386.0,271.0 C388.1,272.0 390.2,273.2 392.5,273.5 C394.8,273.8 397.8,273.3 400.0,273.0 C402.2,272.7 404.2,272.2 406.0,271.5 C407.8,270.8 409.3,270.2 411.0,269.0 C412.7,267.8 415.2,264.8 416.0,264.0" fill="none" stroke="#9a5030" stroke-width="3.8" stroke-linecap="butt" stroke-linejoin="round"/><path d="M380.0,267.5 C381.0,268.1 383.9,270.0 386.0,271.0 C388.1,272.0 390.2,273.2 392.5,273.5 C394.8,273.8 397.8,273.3 400.0,273.0 C402.2,272.7 404.2,272.2 406.0,271.5 C407.8,270.8 409.3,270.2 411.0,269.0 C412.7,267.8 415.2,264.8 416.0,264.0" fill="none" stroke="#cc7440" stroke-width="2.8" stroke-linecap="butt" stroke-linejoin="round"/><path d="M421.0,259.5 C420.2,259.9 417.3,260.9 416.0,262.0 C414.7,263.1 413.2,264.7 413.0,266.0 C412.8,267.3 413.8,269.2 415.0,270.0 C416.2,270.8 418.6,271.3 420.0,271.0 C421.4,270.7 422.9,268.5 423.5,268.0" fill="none" stroke="#e06a20" stroke-width="2.8" stroke-linecap="round" stroke-linejoin="round" opacity="1"/><path d="M399.7,275.0 C399.4,276.6 397.4,281.8 398.0,284.5 C398.6,287.2 400.8,288.9 403.0,291.0 C405.2,293.1 408.8,296.5 411.0,297.3 C413.2,298.1 415.2,296.2 416.0,296.0" fill="none" stroke="#d46c34" stroke-width="1.2" stroke-linecap="round" stroke-linejoin="round" opacity="1"/><path d="M428.4,290.9 C428.2,292.1 426.7,295.4 427.0,298.0 C427.3,300.6 429.5,305.3 430.0,306.8" fill="none" stroke="#d46c34" stroke-width="1.2" stroke-linecap="round" stroke-linejoin="round" opacity="1"/><polygon points="353.3,291.6 353.9,291.9 354.9,292.9 356.6,294.4 358.6,296.1 360.9,297.7 363.2,298.8 365.3,299.2 367.1,298.8 368.9,297.8 368.3,297.5 367.3,296.5 365.6,295.0 363.6,293.3 361.3,291.7 359.0,290.6 356.9,290.2 355.1,290.6" fill="#a85022" stroke="#a85022" stroke-width="0.5" stroke-linejoin="round"/><polygon points="368.1,283.2 368.7,283.5 369.7,284.5 371.4,286.0 373.4,287.7 375.7,289.3 378.0,290.4 380.1,290.8 381.9,290.4 383.7,289.4 383.1,289.1 382.1,288.1 380.4,286.6 378.4,284.9 376.1,283.3 373.8,282.2 371.7,281.8 369.9,282.2" fill="#a85022" stroke="#a85022" stroke-width="0.5" stroke-linejoin="round"/><polygon points="352.0,307.3 351.9,306.9 351.4,305.5 350.8,303.4 350.3,300.8 350.2,298.0 350.5,295.4 351.5,293.3 353.0,291.8 355.4,290.5 355.5,290.9 356.0,292.3 356.6,294.4 357.1,297.0 357.2,299.8 356.9,302.4 355.9,304.5 354.4,306.0" fill="#e8895a" stroke="#c4683a" stroke-width="0.5" stroke-linejoin="round"/><polygon points="366.8,298.9 366.7,298.5 366.2,297.1 365.6,295.0 365.1,292.4 365.0,289.6 365.3,287.0 366.3,284.9 367.8,283.4 370.2,282.1 370.3,282.5 370.8,283.9 371.4,286.0 371.9,288.6 372.0,291.4 371.7,294.0 370.7,296.1 369.2,297.6" fill="#e8895a" stroke="#c4683a" stroke-width="0.5" stroke-linejoin="round"/><polygon points="381.6,290.5 381.5,290.1 381.0,288.7 380.4,286.6 379.9,284.0 379.8,281.2 380.1,278.6 381.1,276.5 382.6,275.0 385.0,273.7 385.1,274.1 385.6,275.5 386.2,277.6 386.7,280.2 386.8,283.0 386.5,285.6 385.5,287.7 384.0,289.2" fill="#e8895a" stroke="#c4683a" stroke-width="0.5" stroke-linejoin="round"/><polygon points="391.6,298.4 392.2,298.7 393.3,299.7 394.9,301.2 396.9,302.9 399.3,304.4 401.8,305.5 404.2,305.8 406.4,305.3 408.6,304.3 408.1,304.0 407.0,303.0 405.4,301.5 403.3,299.9 401.0,298.3 398.5,297.2 396.1,296.9 393.9,297.4" fill="#a85022" stroke="#a85022" stroke-width="0.5" stroke-linejoin="round"/><polygon points="410.5,289.6 411.1,289.8 412.2,290.8 413.8,292.3 415.8,294.0 418.1,295.5 420.6,296.6 423.1,297.0 425.2,296.5 427.5,295.4 426.9,295.2 425.8,294.2 424.2,292.7 422.2,291.0 419.9,289.5 417.4,288.4 414.9,288.0 412.8,288.5" fill="#a85022" stroke="#a85022" stroke-width="0.5" stroke-linejoin="round"/><polygon points="429.4,280.7 429.9,281.0 431.0,282.0 432.6,283.5 434.7,285.1 437.0,286.7 439.5,287.8 441.9,288.1 444.1,287.6 446.4,286.6 445.8,286.3 444.7,285.3 443.1,283.8 441.1,282.1 438.7,280.6 436.2,279.5 433.8,279.2 431.6,279.7" fill="#a85022" stroke="#a85022" stroke-width="0.5" stroke-linejoin="round"/><polygon points="387.1,314.4 387.0,313.9 386.7,312.5 386.4,310.4 386.4,307.8 386.8,305.0 387.7,302.3 389.2,300.1 391.3,298.6 394.3,297.2 394.4,297.7 394.7,299.0 395.0,301.1 395.1,303.7 394.7,306.6 393.7,309.2 392.2,311.5 390.2,312.9" fill="#e8895a" stroke="#c4683a" stroke-width="0.5" stroke-linejoin="round"/><polygon points="406.0,305.5 405.9,305.0 405.6,303.7 405.3,301.6 405.2,299.0 405.6,296.1 406.5,293.5 408.1,291.3 410.1,289.8 413.1,288.3 413.2,288.8 413.6,290.2 413.9,292.3 413.9,294.9 413.5,297.7 412.6,300.4 411.1,302.6 409.0,304.1" fill="#e8895a" stroke="#c4683a" stroke-width="0.5" stroke-linejoin="round"/><polygon points="424.9,296.7 424.8,296.2 424.4,294.8 424.1,292.7 424.1,290.1 424.5,287.3 425.4,284.6 426.9,282.4 429.0,280.9 432.0,279.5 432.1,280.0 432.4,281.3 432.7,283.4 432.8,286.0 432.4,288.9 431.5,291.5 429.9,293.7 427.9,295.2" fill="#e8895a" stroke="#c4683a" stroke-width="0.5" stroke-linejoin="round"/><polygon points="443.7,287.8 443.6,287.3 443.3,286.0 443.0,283.9 442.9,281.3 443.3,278.4 444.3,275.8 445.8,273.5 447.8,272.1 450.9,270.6 451.0,271.1 451.3,272.5 451.6,274.6 451.6,277.2 451.2,280.0 450.3,282.7 448.8,284.9 446.7,286.4" fill="#e8895a" stroke="#c4683a" stroke-width="0.5" stroke-linejoin="round"/><path d="M350.3,295.3 C349.8,297.0 348.0,302.8 347.0,305.7 C346.0,308.6 344.3,311.0 344.3,312.6 C344.3,314.2 346.3,315.5 347.0,315.2 C347.7,314.9 347.5,312.5 348.6,310.9 C349.7,309.3 352.1,306.3 353.8,305.7 C355.5,305.1 357.3,306.0 359.0,307.4 C360.7,308.8 362.3,311.9 364.0,314.3 C365.7,316.7 367.6,320.3 369.3,322.0 C371.1,323.7 373.6,324.2 374.5,324.7" fill="none" stroke="#d46c34" stroke-width="1.2" stroke-linecap="round" stroke-linejoin="round" opacity="1"/><polygon points="381.2,310.1 381.7,310.6 382.4,311.8 383.5,313.8 385.0,316.1 386.7,318.3 388.7,320.1 390.8,321.1 392.9,321.3 395.1,320.9 394.7,320.4 393.9,319.2 392.8,317.2 391.4,314.9 389.6,312.7 387.6,310.9 385.5,309.9 383.4,309.7" fill="#a85022" stroke="#a85022" stroke-width="0.5" stroke-linejoin="round"/><polygon points="400.1,306.8 400.5,307.2 401.3,308.5 402.4,310.5 403.8,312.7 405.6,314.9 407.6,316.7 409.7,317.8 411.8,317.9 414.0,317.5 413.6,317.1 412.8,315.8 411.7,313.9 410.3,311.6 408.5,309.4 406.5,307.6 404.4,306.5 402.3,306.4" fill="#a85022" stroke="#a85022" stroke-width="0.5" stroke-linejoin="round"/><polygon points="419.0,303.5 419.4,303.9 420.2,305.2 421.3,307.1 422.7,309.4 424.5,311.6 426.5,313.4 428.6,314.5 430.7,314.6 432.9,314.2 432.5,313.8 431.7,312.5 430.6,310.5 429.2,308.3 427.4,306.1 425.4,304.3 423.3,303.2 421.2,303.1" fill="#a85022" stroke="#a85022" stroke-width="0.5" stroke-linejoin="round"/><polygon points="437.9,300.1 438.3,300.6 439.1,301.8 440.2,303.8 441.6,306.1 443.4,308.3 445.4,310.1 447.5,311.1 449.6,311.3 451.8,310.9 451.3,310.4 450.6,309.2 449.5,307.2 448.0,304.9 446.3,302.7 444.3,300.9 442.2,299.9 440.1,299.7" fill="#a85022" stroke="#a85022" stroke-width="0.5" stroke-linejoin="round"/><polygon points="373.6,324.7 373.6,324.2 373.6,322.7 373.8,320.6 374.4,317.9 375.3,315.2 376.8,312.8 378.6,311.1 380.8,310.2 383.8,309.7 383.8,310.2 383.8,311.6 383.6,313.8 383.1,316.4 382.1,319.1 380.7,321.5 378.8,323.2 376.7,324.1" fill="#e8895a" stroke="#c4683a" stroke-width="0.5" stroke-linejoin="round"/><polygon points="392.5,321.3 392.5,320.8 392.5,319.4 392.7,317.2 393.3,314.6 394.2,311.9 395.7,309.5 397.5,307.8 399.7,306.9 402.7,306.3 402.7,306.8 402.7,308.3 402.5,310.4 402.0,313.1 401.0,315.8 399.6,318.2 397.7,319.9 395.5,320.8" fill="#e8895a" stroke="#c4683a" stroke-width="0.5" stroke-linejoin="round"/><polygon points="411.4,318.0 411.4,317.5 411.4,316.1 411.6,313.9 412.2,311.3 413.1,308.6 414.5,306.2 416.4,304.4 418.6,303.5 421.6,303.0 421.6,303.5 421.6,304.9 421.4,307.1 420.8,309.7 419.9,312.4 418.5,314.8 416.6,316.6 414.4,317.5" fill="#e8895a" stroke="#c4683a" stroke-width="0.5" stroke-linejoin="round"/><polygon points="430.3,314.7 430.3,314.2 430.3,312.7 430.5,310.6 431.0,307.9 432.0,305.2 433.4,302.8 435.3,301.1 437.5,300.2 440.5,299.7 440.5,300.2 440.5,301.6 440.3,303.8 439.7,306.4 438.8,309.1 437.3,311.5 435.5,313.2 433.3,314.1" fill="#e8895a" stroke="#c4683a" stroke-width="0.5" stroke-linejoin="round"/><polygon points="449.2,311.3 449.2,310.8 449.2,309.4 449.4,307.2 449.9,304.6 450.9,301.9 452.3,299.5 454.2,297.8 456.3,296.9 459.4,296.3 459.4,296.8 459.4,298.3 459.2,300.4 458.6,303.1 457.7,305.8 456.2,308.2 454.4,309.9 452.2,310.8" fill="#e8895a" stroke="#c4683a" stroke-width="0.5" stroke-linejoin="round"/><path d="M436.0,287.0 C436.7,286.2 438.5,283.8 440.0,282.0 C441.5,280.2 443.4,278.2 445.0,276.0 C446.6,273.8 448.8,270.2 449.5,269.0" fill="none" stroke="#a84818" stroke-width="4.2" stroke-linecap="butt" stroke-linejoin="round"/><polygon points="452.9,271.2 452.5,264.4 446.1,266.8" fill="#a84818"/><path d="M422.0,290.0 C423.7,289.8 428.7,289.3 432.0,289.0 C435.3,288.7 438.7,288.3 442.0,288.0 C445.3,287.7 449.7,287.4 452.0,287.0 C454.3,286.6 455.3,285.8 456.0,285.5" fill="none" stroke="#e6661e" stroke-width="3.6" stroke-linecap="butt" stroke-linejoin="round"/><path d="M453.0,271.4 C453.8,272.0 456.6,273.3 458.0,275.0 C459.4,276.7 461.4,279.9 461.7,281.7 C462.0,283.5 460.3,285.3 460.0,286.0" fill="none" stroke="#d46c34" stroke-width="1.1" stroke-linecap="round" stroke-linejoin="round" opacity="1"/><ellipse cx="461.0" cy="309.0" rx="4.5" ry="4.5" fill="none" stroke="#a04c1c" stroke-width="2.4" transform="rotate(0 461.0 309.0)"/><ellipse cx="463.0" cy="310.5" rx="4.5" ry="4.5" fill="none" stroke="#a04c1c" stroke-width="2.4" transform="rotate(0 463.0 310.5)"/><path d="M456.7,298.8 C457.9,297.9 461.3,293.9 463.6,293.6 C465.9,293.3 468.9,295.3 470.5,297.0 C472.1,298.7 473.9,301.4 473.0,304.0 C472.1,306.6 468.3,310.0 465.3,312.6 C462.3,315.2 457.6,318.9 455.0,319.5 C452.4,320.1 450.7,316.6 449.8,316.0" fill="none" stroke="#d46c34" stroke-width="1.2" stroke-linecap="round" stroke-linejoin="round" opacity="1"/><path d="M443.0,309.0 C444.1,311.6 446.6,321.2 449.8,324.7 C453.0,328.2 459.1,329.8 462.0,329.8 C464.9,329.8 466.3,326.3 467.0,324.7 C467.7,323.1 466.2,320.8 466.0,320.0" fill="none" stroke="#d46c34" stroke-width="1.1" stroke-linecap="round" stroke-linejoin="round" opacity="1"/><path d="M397.0,324.7 C398.4,325.6 404.4,328.1 405.5,329.8 C406.6,331.5 404.9,334.0 403.8,335.0 C402.7,336.0 399.5,335.8 398.6,335.9" fill="none" stroke="#d46c34" stroke-width="1.2" stroke-linecap="round" stroke-linejoin="round" opacity="1"/><path d="M397.8,335.5 C400.1,334.9 406.9,333.6 411.5,332.0 C416.1,330.4 421.9,327.4 425.3,326.0 C428.8,324.6 430.5,323.2 432.2,323.4 C433.9,323.5 434.8,325.8 435.6,326.9 C436.5,328.0 437.0,329.7 437.3,330.3" fill="none" stroke="#d46c34" stroke-width="1.3" stroke-linecap="round" stroke-linejoin="round" opacity="1"/><path d="M456.0,320.0 C457.2,322.9 462.7,333.8 463.0,337.2 C463.3,340.6 460.3,340.6 458.0,340.6 C455.7,340.6 450.8,337.8 449.3,337.2" fill="none" stroke="#d46c34" stroke-width="1.1" stroke-linecap="round" stroke-linejoin="round" opacity="1"/><polygon points="406.2,341.2 406.7,341.5 407.4,342.6 408.6,344.3 410.1,346.2 411.9,348.0 413.7,349.5 415.5,350.2 417.1,350.2 418.8,349.6 418.3,349.3 417.6,348.2 416.4,346.5 414.9,344.6 413.1,342.8 411.3,341.3 409.5,340.6 407.9,340.6" fill="#a85022" stroke="#a85022" stroke-width="0.5" stroke-linejoin="round"/><polygon points="420.2,336.4 420.7,336.7 421.4,337.8 422.6,339.5 424.1,341.4 425.9,343.2 427.7,344.7 429.5,345.4 431.1,345.4 432.8,344.8 432.3,344.5 431.6,343.4 430.4,341.7 428.9,339.8 427.1,338.0 425.3,336.5 423.5,335.8 421.9,335.8" fill="#a85022" stroke="#a85022" stroke-width="0.5" stroke-linejoin="round"/><polygon points="402.8,355.1 402.7,354.6 402.5,353.3 402.3,351.3 402.3,348.9 402.6,346.4 403.3,344.1 404.4,342.3 405.9,341.3 408.2,340.5 408.3,341.0 408.5,342.3 408.7,344.3 408.7,346.7 408.4,349.2 407.7,351.5 406.6,353.3 405.1,354.3" fill="#e8895a" stroke="#c4683a" stroke-width="0.5" stroke-linejoin="round"/><polygon points="416.8,350.3 416.7,349.8 416.5,348.5 416.3,346.5 416.3,344.1 416.6,341.6 417.3,339.3 418.4,337.5 419.9,336.5 422.2,335.7 422.3,336.2 422.5,337.5 422.7,339.5 422.7,341.9 422.4,344.4 421.7,346.7 420.6,348.5 419.1,349.5" fill="#e8895a" stroke="#c4683a" stroke-width="0.5" stroke-linejoin="round"/><polygon points="430.8,345.5 430.7,345.0 430.5,343.7 430.3,341.7 430.3,339.3 430.6,336.8 431.3,334.5 432.4,332.7 433.9,331.7 436.2,330.9 436.3,331.4 436.5,332.7 436.7,334.7 436.7,337.1 436.4,339.6 435.7,341.9 434.6,343.7 433.1,344.7" fill="#e8895a" stroke="#c4683a" stroke-width="0.5" stroke-linejoin="round"/><path d="M435,330 C441,325 449,329 448,335 C447,340 439,342 440,347 C441,352 448,353 451,350" fill="none" stroke="#9a4416" stroke-width="3.4" stroke-linecap="round"/><path d="M436,331 C441,327 447,330 446.5,334.5" fill="none" stroke="#c8642a" stroke-width="1.4" stroke-linecap="round"/><path d="M375.5,346.6 C376.4,346.4 377.5,345.2 380.6,345.5 C383.8,345.8 390.7,347.3 394.4,348.4 C398.1,349.4 399.6,351.5 403.0,351.8 C406.4,352.1 410.1,349.7 415.0,350.0 C419.9,350.3 427.9,351.9 432.2,353.5 C436.5,355.1 437.9,358.2 440.8,359.5 C443.7,360.8 447.2,361.6 449.3,361.2 C451.4,360.8 453.3,358.7 453.6,357.0 C453.9,355.3 452.3,352.9 451.0,351.0 C449.7,349.1 446.8,346.7 446.0,345.8" fill="none" stroke="#d46c34" stroke-width="1.3" stroke-linecap="round" stroke-linejoin="round" opacity="1"/><path d="M375.5,347.0 C376.9,347.6 380.9,349.7 384.0,350.5 C387.1,351.3 391.2,351.4 394.4,351.8 C397.6,352.2 401.6,352.8 403.0,353.0" fill="none" stroke="#d46c34" stroke-width="1.1" stroke-linecap="round" stroke-linejoin="round" opacity="1"/></g>
<g><path d="M518.2,191.2 C518.8,188.2 519.6,187.1 521.5,186.2 C523.4,185.3 527.2,185.2 529.7,185.9 C532.2,186.6 534.1,189.2 536.3,190.3 C538.5,191.5 540.2,193.6 543.0,192.8 C545.8,192.0 549.5,186.8 552.8,185.4 C556.1,184.0 559.9,184.3 562.6,184.6 C565.3,184.9 567.0,185.4 569.2,187.0 C571.4,188.6 573.9,191.8 575.8,194.4 C577.7,197.0 579.1,199.9 580.7,202.7 C582.4,205.5 584.3,208.0 585.7,211.0 C587.1,214.0 588.3,217.3 589.0,220.8 C589.7,224.3 590.0,228.1 590.0,232.0 C590.0,235.9 589.2,240.7 589.0,244.0 C588.8,247.3 588.3,249.3 589.0,252.0 C589.7,254.7 592.5,257.7 593.0,260.0 C593.5,262.3 593.2,264.6 592.0,266.0 C590.8,267.4 589.3,268.5 586.0,268.5 C582.7,268.5 576.0,267.1 572.0,266.0 C568.0,264.9 564.7,264.3 562.0,262.0 C559.3,259.7 557.7,255.7 556.0,252.0 C554.3,248.3 553.1,243.3 552.0,240.0 C550.9,236.7 551.0,234.4 549.5,232.3 C548.0,230.2 545.5,229.2 543.0,227.3 C540.5,225.4 537.2,222.7 534.7,220.8 C532.2,218.9 530.2,217.2 528.0,215.8 C525.8,214.4 523.2,214.5 521.5,212.5 C519.8,210.5 518.5,207.6 518.0,204.0 C517.5,200.4 517.6,194.2 518.2,191.2Z" fill="#eaf2e6" stroke="#cfe6c4" stroke-width="0.7" opacity="1"/><path d="M518.0,192.0 C518.2,189.4 519.0,187.5 521.0,186.5 C523.0,185.5 527.5,185.3 530.0,186.0 C532.5,186.7 534.3,188.7 536.0,190.5 C537.7,192.3 540.0,194.8 540.0,197.0 C540.0,199.2 538.2,202.5 536.0,204.0 C533.8,205.5 529.7,206.3 527.0,206.0 C524.3,205.7 521.5,204.3 520.0,202.0 C518.5,199.7 517.8,194.6 518.0,192.0Z" fill="#f2d8d8" stroke="none" stroke-width="0" opacity="1"/><circle cx="521.5" cy="190.0" r="3.3" fill="#ecbcbc"/><circle cx="529.0" cy="189.5" r="3.3" fill="#ecbcbc"/><circle cx="522.0" cy="188.8" r="1.9" fill="#fcf2f2"/><circle cx="529.5" cy="188.3" r="1.9" fill="#fcf2f2"/><path d="M524.0,201.0 C525.7,199.2 530.0,198.2 532.0,199.0 C534.0,199.8 536.3,203.8 536.0,206.0 C535.7,208.2 532.3,211.3 530.0,212.0 C527.7,212.7 523.0,211.8 522.0,210.0 C521.0,208.2 522.3,202.8 524.0,201.0Z" fill="#eebcbc" stroke="none" stroke-width="0" opacity="0.9"/><path d="M535.0,196.0 C535.5,193.8 540.2,193.0 542.0,194.0 C543.8,195.0 546.5,199.8 546.0,202.0 C545.5,204.2 540.8,208.0 539.0,207.0 C537.2,206.0 534.5,198.2 535.0,196.0Z" fill="#eebaba" stroke="none" stroke-width="0" opacity="0.9"/><path d="M538.0,208.0 C539.0,206.5 544.3,206.0 546.0,207.0 C547.7,208.0 549.0,212.5 548.0,214.0 C547.0,215.5 541.7,217.0 540.0,216.0 C538.3,215.0 537.0,209.5 538.0,208.0Z" fill="#f0c6c6" stroke="none" stroke-width="0" opacity="0.9"/><path d="M556.0,186.0 C557.0,184.8 563.7,184.7 566.0,185.5 C568.3,186.3 571.0,189.8 570.0,191.0 C569.0,192.2 562.3,193.8 560.0,193.0 C557.7,192.2 555.0,187.2 556.0,186.0Z" fill="#efc4c4" stroke="none" stroke-width="0" opacity="0.9"/><path d="M527.0,192.0 C528.2,191.3 532.3,192.0 533.0,193.0 C533.7,194.0 532.2,197.3 531.0,198.0 C529.8,198.7 526.7,198.0 526.0,197.0 C525.3,196.0 525.8,192.7 527.0,192.0Z" fill="#fbf0f0" stroke="none" stroke-width="0" opacity="0.9"/><path d="M531.0,189.0 C531.7,187.5 537.8,188.8 540.0,190.0 C542.2,191.2 544.7,194.5 544.0,196.0 C543.3,197.5 538.2,200.2 536.0,199.0 C533.8,197.8 530.3,190.5 531.0,189.0Z" fill="#c6e6b6" stroke="none" stroke-width="0" opacity="0.9"/><path d="M541.0,214.0 C542.8,211.8 549.2,209.7 552.0,211.0 C554.8,212.3 558.7,219.2 558.0,222.0 C557.3,224.8 550.8,227.7 548.0,228.0 C545.2,228.3 542.2,226.3 541.0,224.0 C539.8,221.7 539.2,216.2 541.0,214.0Z" fill="#c8e8b8" stroke="none" stroke-width="0" opacity="0.9"/><path d="M566.0,188.0 C567.7,186.3 573.3,190.0 576.0,193.0 C578.7,196.0 582.3,202.8 582.0,206.0 C581.7,209.2 576.7,212.5 574.0,212.0 C571.3,211.5 567.3,207.0 566.0,203.0 C564.7,199.0 564.3,189.7 566.0,188.0Z" fill="#c4e6b2" stroke="none" stroke-width="0" opacity="0.9"/><path d="M572.0,214.0 C574.0,211.7 581.3,210.0 584.0,212.0 C586.7,214.0 588.7,222.7 588.0,226.0 C587.3,229.3 582.7,232.0 580.0,232.0 C577.3,232.0 573.3,229.0 572.0,226.0 C570.7,223.0 570.0,216.3 572.0,214.0Z" fill="#c8e8b8" stroke="none" stroke-width="0" opacity="0.9"/><path d="M558.0,240.0 C559.3,236.0 569.2,234.0 574.0,234.0 C578.8,234.0 584.7,236.7 587.0,240.0 C589.3,243.3 588.8,250.3 588.0,254.0 C587.2,257.7 585.7,261.3 582.0,262.0 C578.3,262.7 570.0,261.7 566.0,258.0 C562.0,254.3 556.7,244.0 558.0,240.0Z" fill="#c8e6b8" stroke="none" stroke-width="0" opacity="0.9"/><path d="M552.0,186.0 C552.8,184.8 558.3,185.0 560.0,186.0 C561.7,187.0 562.8,190.8 562.0,192.0 C561.2,193.2 556.7,194.0 555.0,193.0 C553.3,192.0 551.2,187.2 552.0,186.0Z" fill="#bfe4ac" stroke="none" stroke-width="0" opacity="0.9"/><path d="M560.0,256.0 C561.7,254.0 573.0,253.0 578.0,253.0 C583.0,253.0 587.5,254.3 590.0,256.0 C592.5,257.7 593.7,261.0 593.0,263.0 C592.3,265.0 590.2,267.7 586.0,268.0 C581.8,268.3 572.3,267.0 568.0,265.0 C563.7,263.0 558.3,258.0 560.0,256.0Z" fill="#d0d0ee" stroke="none" stroke-width="0" opacity="0.95"/><path d="M553.0,233.0 C553.2,230.5 555.8,229.5 557.0,231.0 C558.2,232.5 560.2,239.5 560.0,242.0 C559.8,244.5 557.2,247.5 556.0,246.0 C554.8,244.5 552.8,235.5 553.0,233.0Z" fill="#cacaf0" stroke="none" stroke-width="0" opacity="0.9"/><path d="M529.0,224.0 C529.7,222.5 533.8,221.0 535.0,222.0 C536.2,223.0 536.7,228.5 536.0,230.0 C535.3,231.5 532.2,232.0 531.0,231.0 C529.8,230.0 528.3,225.5 529.0,224.0Z" fill="#d2caee" stroke="none" stroke-width="0" opacity="0.8"/><path d="M543.0,226.0 C544.2,226.1 547.7,226.0 550.0,226.5 C552.3,227.0 555.0,227.8 556.7,229.0 C558.4,230.2 559.1,232.2 560.0,234.0 C560.9,235.8 561.7,238.6 562.0,239.5" fill="none" stroke="#9ad884" stroke-width="1.3" stroke-linecap="round" stroke-linejoin="round" opacity="1"/><path d="M553.0,186.0 C553.7,185.8 555.3,185.0 557.0,184.8 C558.7,184.6 562.0,185.0 563.0,185.0" fill="none" stroke="#a8e090" stroke-width="1.1" stroke-linecap="round" stroke-linejoin="round" opacity="1"/><path d="M576.0,196.0 C576.7,196.8 578.7,199.0 580.0,201.0 C581.3,203.0 583.3,206.8 584.0,208.0" fill="none" stroke="#a8e090" stroke-width="1.0" stroke-linecap="round" stroke-linejoin="round" opacity="1"/><path d="M545.0,191.5 C545.8,191.2 547.9,189.5 549.5,189.5 C551.1,189.5 553.7,189.8 554.5,191.5 C555.3,193.2 555.3,197.8 554.5,199.5 C553.7,201.2 551.1,202.0 549.5,202.0 C547.9,202.0 545.8,201.2 545.0,199.5 C544.2,197.8 545.0,192.8 545.0,191.5" fill="none" stroke="#c0b878" stroke-width="2.2" stroke-linecap="round" stroke-linejoin="round" opacity="1"/><path d="M545.0,191.5 C545.8,191.2 547.9,189.5 549.5,189.5 C551.1,189.5 553.7,189.8 554.5,191.5 C555.3,193.2 555.3,197.8 554.5,199.5 C553.7,201.2 551.1,202.0 549.5,202.0 C547.9,202.0 545.8,201.2 545.0,199.5 C544.2,197.8 545.0,192.8 545.0,191.5" fill="none" stroke="#eee8b4" stroke-width="1.4" stroke-linecap="round" stroke-linejoin="round" opacity="1"/><path d="M549.5,187.5 C549.5,187.8 549.5,189.2 549.5,189.5" fill="none" stroke="#eee8b4" stroke-width="1.6" stroke-linecap="round" stroke-linejoin="round" opacity="1"/><path d="M549.5,202.0 C549.6,202.7 549.5,204.8 550.3,206.0 C551.1,207.2 552.9,209.0 554.4,209.3 C555.9,209.6 557.4,207.6 559.0,208.0 C560.6,208.4 563.2,210.6 564.0,212.0 C564.8,213.4 564.5,215.5 563.5,216.5 C562.5,217.5 559.7,218.4 558.0,218.0 C556.3,217.6 554.1,215.4 553.5,214.0 C552.9,212.6 554.2,210.1 554.4,209.3" fill="none" stroke="#c0b878" stroke-width="2.2" stroke-linecap="round" stroke-linejoin="round" opacity="1"/><path d="M549.5,202.0 C549.6,202.7 549.5,204.8 550.3,206.0 C551.1,207.2 552.9,209.0 554.4,209.3 C555.9,209.6 557.4,207.6 559.0,208.0 C560.6,208.4 563.2,210.6 564.0,212.0 C564.8,213.4 564.5,215.5 563.5,216.5 C562.5,217.5 559.7,218.4 558.0,218.0 C556.3,217.6 554.1,215.4 553.5,214.0 C552.9,212.6 554.2,210.1 554.4,209.3" fill="none" stroke="#eee8b4" stroke-width="1.4" stroke-linecap="round" stroke-linejoin="round" opacity="1"/><path d="M564.0,212.0 C564.7,212.8 567.7,215.2 568.0,216.5 C568.3,217.8 566.6,219.2 566.0,220.0 C565.4,220.8 564.0,220.7 564.3,221.6 C564.6,222.5 566.3,225.3 567.6,225.7 C568.9,226.1 570.7,223.6 572.0,224.0 C573.3,224.4 575.3,226.7 575.5,228.0 C575.7,229.3 574.2,231.5 573.0,232.0 C571.8,232.5 569.2,232.0 568.0,231.0 C566.8,230.0 566.3,226.8 566.0,226.0" fill="none" stroke="#c0b878" stroke-width="2.2" stroke-linecap="round" stroke-linejoin="round" opacity="1"/><path d="M564.0,212.0 C564.7,212.8 567.7,215.2 568.0,216.5 C568.3,217.8 566.6,219.2 566.0,220.0 C565.4,220.8 564.0,220.7 564.3,221.6 C564.6,222.5 566.3,225.3 567.6,225.7 C568.9,226.1 570.7,223.6 572.0,224.0 C573.3,224.4 575.3,226.7 575.5,228.0 C575.7,229.3 574.2,231.5 573.0,232.0 C571.8,232.5 569.2,232.0 568.0,231.0 C566.8,230.0 566.3,226.8 566.0,226.0" fill="none" stroke="#eee8b4" stroke-width="1.4" stroke-linecap="round" stroke-linejoin="round" opacity="1"/><path d="M570.0,232.0 C569.8,233.0 568.8,236.2 569.0,238.0 C569.2,239.8 571.2,241.5 571.0,243.0 C570.8,244.5 568.5,246.3 568.0,247.0" fill="none" stroke="#c0b878" stroke-width="1.8" stroke-linecap="round" stroke-linejoin="round" opacity="1"/><path d="M570.0,232.0 C569.8,233.0 568.8,236.2 569.0,238.0 C569.2,239.8 571.2,241.5 571.0,243.0 C570.8,244.5 568.5,246.3 568.0,247.0" fill="none" stroke="#eee8b4" stroke-width="1.1" stroke-linecap="round" stroke-linejoin="round" opacity="1"/><circle cx="549.5" cy="192.8" r="1.35" fill="#2456d8"/><circle cx="549.5" cy="201.4" r="1.35" fill="#2456d8"/><circle cx="564.3" cy="221.6" r="1.1" fill="#2456d8"/><circle cx="570.0" cy="216.7" r="1.2" fill="#d82020"/><circle cx="568.0" cy="239.0" r="1.0" fill="#38b0d8"/><circle cx="572.0" cy="244.0" r="1.0" fill="#38b0d8"/><circle cx="567.0" cy="249.0" r="1.0" fill="#38b0d8"/><circle cx="547.0" cy="190.5" r="0.9" fill="#f2eec4"/><circle cx="552.0" cy="190.5" r="0.9" fill="#f2eec4"/><circle cx="556.0" cy="210.0" r="0.9" fill="#f2eec4"/><circle cx="561.0" cy="207.5" r="0.9" fill="#f2eec4"/><circle cx="572.0" cy="223.5" r="0.9" fill="#f2eec4"/><path d="M565.0,199.0 C566.0,198.7 569.0,197.3 571.0,197.0 C573.0,196.7 575.0,196.8 577.0,197.0 C579.0,197.2 582.0,198.2 583.0,198.5" fill="none" stroke="#cdaab0" stroke-width="1.3" stroke-linecap="round" stroke-linejoin="round" opacity="1"/><polygon points="583.0,209.7 583.7,209.8 585.3,209.4 587.6,208.6 590.3,207.9 593.3,207.4 596.0,207.3 598.2,207.8 599.7,209.0 600.8,210.6 600.1,210.5 598.6,210.9 596.3,211.6 593.5,212.4 590.6,212.9 587.9,213.0 585.6,212.4 584.1,211.3" fill="#b4969c" stroke="#b4969c" stroke-width="0.5" stroke-linejoin="round"/><polygon points="593.6,224.6 594.3,224.6 595.9,224.2 598.1,223.5 600.9,222.8 603.8,222.3 606.6,222.2 608.8,222.7 610.3,223.9 611.4,225.4 610.7,225.4 609.1,225.8 606.9,226.5 604.1,227.2 601.2,227.7 598.4,227.8 596.2,227.3 594.7,226.1" fill="#b4969c" stroke="#b4969c" stroke-width="0.5" stroke-linejoin="round"/><polygon points="604.2,239.4 604.9,239.5 606.4,239.1 608.7,238.4 611.5,237.6 614.4,237.1 617.1,237.0 619.4,237.6 620.9,238.7 622.0,240.3 621.3,240.2 619.7,240.6 617.4,241.4 614.7,242.1 611.7,242.6 609.0,242.7 606.8,242.2 605.3,241.0" fill="#b4969c" stroke="#b4969c" stroke-width="0.5" stroke-linejoin="round"/><polygon points="588.9,193.8 588.6,194.3 587.6,195.5 586.1,197.3 584.4,199.6 583.0,202.2 582.1,204.9 582.0,207.4 582.8,209.4 584.4,211.6 584.7,211.1 585.7,210.0 587.2,208.2 588.9,205.8 590.3,203.2 591.2,200.5 591.3,198.0 590.5,196.0" fill="#d9bfc3" stroke="#c4a8ad" stroke-width="0.5" stroke-linejoin="round"/><polygon points="599.5,208.7 599.2,209.2 598.1,210.3 596.6,212.1 595.0,214.5 593.6,217.1 592.7,219.8 592.6,222.2 593.4,224.3 594.9,226.4 595.3,226.0 596.3,224.8 597.8,223.0 599.4,220.7 600.8,218.1 601.7,215.4 601.8,212.9 601.1,210.9" fill="#d9bfc3" stroke="#c4a8ad" stroke-width="0.5" stroke-linejoin="round"/><polygon points="610.1,223.6 609.7,224.0 608.7,225.2 607.2,227.0 605.6,229.3 604.2,231.9 603.3,234.6 603.2,237.1 603.9,239.1 605.5,241.3 605.8,240.8 606.9,239.7 608.4,237.9 610.0,235.5 611.4,232.9 612.3,230.2 612.4,227.8 611.6,225.7" fill="#d9bfc3" stroke="#c4a8ad" stroke-width="0.5" stroke-linejoin="round"/><polygon points="620.6,238.4 620.3,238.9 619.3,240.0 617.8,241.8 616.1,244.2 614.7,246.8 613.8,249.5 613.7,252.0 614.5,254.0 616.1,256.2 616.4,255.7 617.4,254.5 618.9,252.7 620.6,250.4 622.0,247.8 622.9,245.1 623.0,242.6 622.2,240.6" fill="#d9bfc3" stroke="#c4a8ad" stroke-width="0.5" stroke-linejoin="round"/><path d="M621.0,251.0 C621.8,251.2 624.2,251.6 626.0,252.0 C627.8,252.4 631.7,252.8 632.0,253.5 C632.3,254.2 630.3,255.9 628.0,256.0 C625.7,256.1 621.0,255.0 618.0,254.0 C615.0,253.0 612.3,250.3 610.0,250.0 C607.7,249.7 605.7,251.0 604.0,252.0 C602.3,253.0 600.7,255.3 600.0,256.0" fill="none" stroke="#cdaab0" stroke-width="1.2" stroke-linecap="round" stroke-linejoin="round" opacity="1"/><path d="M586.0,231.0 C587.2,230.7 590.7,229.3 593.0,229.0 C595.3,228.7 597.8,228.5 600.0,229.0 C602.2,229.5 605.0,231.5 606.0,232.0" fill="none" stroke="#cdaab0" stroke-width="1.1" stroke-linecap="round" stroke-linejoin="round" opacity="1"/><path d="M532.0,213.0 C532.2,214.2 532.3,217.5 533.0,220.0 C533.7,222.5 534.7,225.5 536.0,228.0 C537.3,230.5 540.2,233.8 541.0,235.0" fill="none" stroke="#c4a8ae" stroke-width="4" stroke-linecap="butt" stroke-linejoin="round"/><polygon points="518.9,256.0 519.4,256.0 520.4,256.6 521.9,257.4 523.7,258.3 525.6,259.1 527.4,259.6 528.9,259.7 529.9,259.2 530.6,258.4 530.1,258.4 529.1,257.9 527.6,257.1 525.9,256.1 524.0,255.3 522.2,254.8 520.7,254.7 519.7,255.2" fill="#b4969c" stroke="#b4969c" stroke-width="0.5" stroke-linejoin="round"/><polygon points="526.7,248.3 527.1,248.3 528.2,248.8 529.6,249.7 531.4,250.6 533.3,251.4 535.1,251.9 536.6,252.0 537.6,251.5 538.3,250.7 537.9,250.7 536.8,250.2 535.4,249.3 533.6,248.4 531.7,247.6 529.9,247.1 528.4,247.0 527.4,247.5" fill="#b4969c" stroke="#b4969c" stroke-width="0.5" stroke-linejoin="round"/><polygon points="534.4,240.6 534.9,240.6 535.9,241.1 537.4,241.9 539.1,242.9 541.0,243.7 542.8,244.2 544.3,244.3 545.3,243.8 546.1,243.0 545.6,243.0 544.6,242.4 543.1,241.6 541.3,240.7 539.4,239.9 537.6,239.4 536.1,239.3 535.1,239.8" fill="#b4969c" stroke="#b4969c" stroke-width="0.5" stroke-linejoin="round"/><polygon points="522.0,267.0 521.9,266.7 521.3,265.7 520.4,264.3 519.5,262.5 518.7,260.6 518.2,258.8 518.2,257.2 518.8,256.1 519.8,255.1 520.0,255.5 520.6,256.4 521.5,257.8 522.4,259.6 523.2,261.5 523.7,263.3 523.6,264.9 523.0,266.0" fill="#c39aa1" stroke="#c4a8ad" stroke-width="0.5" stroke-linejoin="round"/><polygon points="529.7,259.3 529.6,258.9 529.0,258.0 528.1,256.6 527.2,254.8 526.4,252.9 525.9,251.1 525.9,249.5 526.5,248.4 527.5,247.4 527.7,247.8 528.3,248.7 529.2,250.1 530.1,251.9 530.9,253.8 531.4,255.6 531.3,257.2 530.8,258.3" fill="#c39aa1" stroke="#c4a8ad" stroke-width="0.5" stroke-linejoin="round"/><polygon points="537.5,251.6 537.3,251.2 536.7,250.3 535.8,248.9 534.9,247.1 534.1,245.2 533.6,243.4 533.7,241.8 534.2,240.7 535.3,239.7 535.4,240.1 536.0,241.0 536.9,242.4 537.8,244.2 538.6,246.1 539.1,247.9 539.1,249.5 538.5,250.6" fill="#c39aa1" stroke="#c4a8ad" stroke-width="0.5" stroke-linejoin="round"/><polygon points="545.2,243.9 545.0,243.5 544.4,242.6 543.5,241.2 542.6,239.4 541.8,237.5 541.3,235.7 541.4,234.1 542.0,233.0 543.0,232.0 543.1,232.3 543.7,233.3 544.6,234.7 545.5,236.5 546.3,238.4 546.8,240.2 546.8,241.8 546.2,242.9" fill="#c39aa1" stroke="#c4a8ad" stroke-width="0.5" stroke-linejoin="round"/><path d="M548.0,236.0 C549.5,235.7 554.0,235.1 556.7,234.3 C559.4,233.6 561.7,232.4 564.0,231.5 C566.3,230.6 568.7,229.7 570.5,229.0 C572.3,228.3 574.2,227.7 575.0,227.4" fill="none" stroke="#cdaab0" stroke-width="1.2" stroke-linecap="round" stroke-linejoin="round" opacity="1"/><path d="M519.3,263.2 C517.8,263.2 512.5,263.4 510.3,263.2 C508.1,263.0 507.7,261.1 505.8,262.0 C503.9,262.9 500.5,266.6 499.0,268.9 C497.5,271.2 496.4,273.4 496.8,275.6 C497.2,277.9 499.1,280.1 501.3,282.4 C503.6,284.7 508.1,287.3 510.3,289.2 C512.5,291.1 514.8,292.6 514.8,293.7 C514.8,294.8 511.8,296.4 510.3,296.0 C508.8,295.6 506.2,293.5 505.8,291.4 C505.4,289.3 506.9,286.1 508.0,283.5 C509.1,280.9 512.0,277.7 512.6,275.6 C513.2,273.5 511.6,271.8 511.4,271.0" fill="none" stroke="#cdaab0" stroke-width="1.1" stroke-linecap="round" stroke-linejoin="round" opacity="1"/><path d="M523.9,266.6 C523.5,268.8 522.8,276.2 521.6,280.0 C520.5,283.8 518.5,286.5 517.0,289.2 C515.5,291.9 512.6,293.8 512.6,296.0 C512.6,298.2 515.1,300.4 517.0,302.7 C518.9,304.9 521.7,307.9 523.9,309.5 C526.1,311.1 529.0,311.6 530.0,312.0" fill="none" stroke="#cdaab0" stroke-width="1.1" stroke-linecap="round" stroke-linejoin="round" opacity="1"/><path d="M542.0,257.6 C542.7,259.3 545.6,264.3 546.4,268.0 C547.2,271.7 547.2,276.0 547.0,280.0 C546.8,284.0 545.3,290.0 545.0,292.0" fill="none" stroke="#cdaab0" stroke-width="1.0" stroke-linecap="round" stroke-linejoin="round" opacity="1"/><polygon points="543.6,264.8 544.0,265.2 544.5,266.3 545.3,268.0 546.2,270.0 547.3,272.0 548.5,273.6 549.8,274.6 551.0,274.9 552.2,274.7 551.8,274.4 551.2,273.2 550.5,271.5 549.5,269.5 548.4,267.6 547.2,265.9 545.9,264.9 544.7,264.7" fill="#b4969c" stroke="#b4969c" stroke-width="0.5" stroke-linejoin="round"/><polygon points="555.4,263.2 555.8,263.5 556.3,264.7 557.1,266.4 558.0,268.4 559.1,270.3 560.4,272.0 561.6,273.0 562.8,273.3 564.0,273.1 563.6,272.7 563.0,271.6 562.3,269.9 561.3,267.9 560.2,265.9 559.0,264.3 557.8,263.3 556.6,263.0" fill="#b4969c" stroke="#b4969c" stroke-width="0.5" stroke-linejoin="round"/><polygon points="567.2,261.5 567.6,261.9 568.1,263.0 568.9,264.7 569.8,266.7 571.0,268.7 572.2,270.3 573.4,271.4 574.6,271.6 575.8,271.5 575.4,271.1 574.9,270.0 574.1,268.3 573.2,266.3 572.0,264.3 570.8,262.7 569.6,261.6 568.4,261.4" fill="#b4969c" stroke="#b4969c" stroke-width="0.5" stroke-linejoin="round"/><polygon points="579.0,259.9 579.4,260.3 580.0,261.4 580.7,263.1 581.7,265.1 582.8,267.1 584.0,268.7 585.2,269.7 586.4,270.0 587.6,269.8 587.2,269.5 586.7,268.3 585.9,266.6 585.0,264.6 583.9,262.7 582.6,261.0 581.4,260.0 580.2,259.7" fill="#b4969c" stroke="#b4969c" stroke-width="0.5" stroke-linejoin="round"/><polygon points="590.8,258.3 591.2,258.6 591.8,259.8 592.5,261.5 593.5,263.5 594.6,265.4 595.8,267.1 597.1,268.1 598.3,268.3 599.4,268.2 599.0,267.8 598.5,266.7 597.7,265.0 596.8,263.0 595.7,261.0 594.5,259.4 593.2,258.4 592.0,258.1" fill="#b4969c" stroke="#b4969c" stroke-width="0.5" stroke-linejoin="round"/><polygon points="539.0,276.6 539.1,276.1 539.2,274.9 539.4,273.1 539.7,270.9 540.3,268.7 541.1,266.8 542.1,265.4 543.4,264.8 544.9,264.6 544.8,265.1 544.7,266.3 544.5,268.1 544.2,270.3 543.6,272.5 542.8,274.4 541.8,275.7 540.5,276.3" fill="#d9bfc3" stroke="#c4a8ad" stroke-width="0.5" stroke-linejoin="round"/><polygon points="550.8,274.9 550.9,274.5 551.0,273.3 551.2,271.4 551.5,269.3 552.1,267.1 552.9,265.1 553.9,263.8 555.2,263.2 556.8,263.0 556.6,263.4 556.5,264.6 556.4,266.5 556.0,268.6 555.5,270.8 554.6,272.8 553.6,274.1 552.4,274.7" fill="#d9bfc3" stroke="#c4a8ad" stroke-width="0.5" stroke-linejoin="round"/><polygon points="562.6,273.3 562.7,272.8 562.8,271.6 563.0,269.8 563.3,267.6 563.9,265.4 564.7,263.5 565.8,262.2 567.0,261.6 568.6,261.4 568.5,261.8 568.4,263.0 568.2,264.8 567.8,267.0 567.3,269.2 566.5,271.1 565.4,272.5 564.2,273.1" fill="#d9bfc3" stroke="#c4a8ad" stroke-width="0.5" stroke-linejoin="round"/><polygon points="574.4,271.6 574.5,271.2 574.6,270.0 574.8,268.2 575.2,266.0 575.7,263.8 576.5,261.9 577.6,260.5 578.8,259.9 580.4,259.7 580.3,260.2 580.2,261.4 580.0,263.2 579.7,265.4 579.1,267.6 578.3,269.5 577.2,270.8 576.0,271.4" fill="#d9bfc3" stroke="#c4a8ad" stroke-width="0.5" stroke-linejoin="round"/><polygon points="586.2,270.0 586.4,269.6 586.5,268.4 586.6,266.5 587.0,264.4 587.5,262.2 588.4,260.2 589.4,258.9 590.6,258.3 592.2,258.1 592.1,258.5 592.0,259.7 591.8,261.6 591.5,263.7 590.9,265.9 590.1,267.9 589.1,269.2 587.8,269.8" fill="#d9bfc3" stroke="#c4a8ad" stroke-width="0.5" stroke-linejoin="round"/><polygon points="598.1,268.4 598.2,267.9 598.3,266.7 598.5,264.9 598.8,262.7 599.4,260.5 600.2,258.6 601.2,257.3 602.5,256.7 604.0,256.4 603.9,256.9 603.8,258.1 603.6,259.9 603.3,262.1 602.7,264.3 601.9,266.2 600.9,267.6 599.6,268.2" fill="#d9bfc3" stroke="#c4a8ad" stroke-width="0.5" stroke-linejoin="round"/><path d="M603.0,262.4 C603.5,261.2 604.8,257.6 606.0,255.0 C607.2,252.4 608.2,249.3 610.0,247.0 C611.8,244.7 615.8,242.0 617.0,241.0" fill="none" stroke="#cdaab0" stroke-width="1.2" stroke-linecap="round" stroke-linejoin="round" opacity="1"/><path d="M552.0,274.0 C552.6,275.5 554.7,279.8 555.5,283.0 C556.3,286.2 556.7,289.3 557.0,293.0 C557.3,296.7 557.3,300.8 557.5,305.0 C557.7,309.2 557.7,313.5 558.0,318.0 C558.3,322.5 559.2,329.7 559.5,332.0" fill="none" stroke="#b89ca2" stroke-width="6.5" stroke-linecap="butt" stroke-linejoin="round"/><path d="M552.0,274.0 C552.6,275.5 554.7,279.8 555.5,283.0 C556.3,286.2 556.7,289.3 557.0,293.0 C557.3,296.7 557.3,300.8 557.5,305.0 C557.7,309.2 557.7,313.5 558.0,318.0 C558.3,322.5 559.2,329.7 559.5,332.0" fill="none" stroke="#dbc5c8" stroke-width="5.5" stroke-linecap="butt" stroke-linejoin="round"/><path d="M571.0,278.0 C571.1,280.0 571.6,286.0 571.8,290.0 C572.0,294.0 572.0,297.7 572.0,302.0 C572.0,306.3 571.9,310.7 572.0,316.0 C572.1,321.3 572.4,331.0 572.5,334.0" fill="none" stroke="#b89ca2" stroke-width="6.5" stroke-linecap="butt" stroke-linejoin="round"/><path d="M571.0,278.0 C571.1,280.0 571.6,286.0 571.8,290.0 C572.0,294.0 572.0,297.7 572.0,302.0 C572.0,306.3 571.9,310.7 572.0,316.0 C572.1,321.3 572.4,331.0 572.5,334.0" fill="none" stroke="#dbc5c8" stroke-width="5.5" stroke-linecap="butt" stroke-linejoin="round"/><path d="M524.0,313.0 C525.3,312.6 529.2,311.8 532.0,310.5 C534.8,309.2 538.0,307.0 541.0,305.0 C544.0,303.0 548.5,299.6 550.0,298.5" fill="none" stroke="#8e7078" stroke-width="5" stroke-linecap="butt" stroke-linejoin="round"/><path d="M524.0,313.0 C525.3,312.6 529.2,311.8 532.0,310.5 C534.8,309.2 538.0,307.0 541.0,305.0 C544.0,303.0 548.5,299.6 550.0,298.5" fill="none" stroke="#b8989e" stroke-width="4" stroke-linecap="butt" stroke-linejoin="round"/><polygon points="552.2,301.6 554.2,295.5 547.8,295.4" fill="#b8989e"/><path d="M557.0,298.7 C558.5,299.6 562.6,301.8 566.0,304.0 C569.4,306.2 574.3,310.1 577.5,311.7 C580.7,313.3 583.8,313.3 585.0,313.6" fill="none" stroke="#cdaab0" stroke-width="1.1" stroke-linecap="round" stroke-linejoin="round" opacity="1"/><polygon points="580.0,306.6 580.5,306.7 581.8,306.4 583.6,306.1 585.7,305.7 587.9,305.4 589.9,305.4 591.4,305.8 592.2,306.5 592.6,307.4 592.1,307.3 590.9,307.6 589.1,307.9 587.0,308.3 584.7,308.6 582.8,308.6 581.3,308.2 580.5,307.5" fill="#b4969c" stroke="#b4969c" stroke-width="0.5" stroke-linejoin="round"/><polygon points="584.5,315.9 585.0,316.0 586.2,315.8 588.0,315.4 590.2,315.0 592.4,314.8 594.3,314.8 595.8,315.1 596.6,315.8 597.1,316.8 596.6,316.7 595.3,316.9 593.5,317.3 591.4,317.6 589.2,317.9 587.2,317.9 585.7,317.6 584.9,316.8" fill="#b4969c" stroke="#b4969c" stroke-width="0.5" stroke-linejoin="round"/><polygon points="588.9,325.2 589.4,325.3 590.7,325.1 592.5,324.7 594.6,324.4 596.8,324.1 598.8,324.1 600.3,324.4 601.1,325.2 601.5,326.1 601.0,326.0 599.8,326.2 598.0,326.6 595.8,327.0 593.6,327.2 591.7,327.2 590.2,326.9 589.4,326.2" fill="#b4969c" stroke="#b4969c" stroke-width="0.5" stroke-linejoin="round"/><polygon points="593.4,334.6 593.9,334.7 595.1,334.4 596.9,334.1 599.0,333.7 601.3,333.4 603.2,333.4 604.7,333.8 605.5,334.5 606.0,335.4 605.5,335.3 604.2,335.6 602.4,335.9 600.3,336.3 598.1,336.6 596.1,336.6 594.6,336.2 593.8,335.5" fill="#b4969c" stroke="#b4969c" stroke-width="0.5" stroke-linejoin="round"/><polygon points="587.7,297.0 587.4,297.3 586.4,298.1 584.9,299.2 583.3,300.6 581.7,302.1 580.5,303.7 579.9,305.2 580.0,306.4 580.6,307.7 580.9,307.3 581.8,306.6 583.3,305.5 585.0,304.1 586.5,302.5 587.8,300.9 588.4,299.5 588.3,298.3" fill="#d9bfc3" stroke="#c4a8ad" stroke-width="0.5" stroke-linejoin="round"/><polygon points="592.1,306.3 591.8,306.7 590.8,307.4 589.4,308.5 587.7,309.9 586.1,311.5 584.9,313.1 584.3,314.5 584.4,315.7 585.0,317.0 585.3,316.7 586.3,315.9 587.7,314.8 589.4,313.4 591.0,311.9 592.2,310.3 592.8,308.8 592.7,307.6" fill="#d9bfc3" stroke="#c4a8ad" stroke-width="0.5" stroke-linejoin="round"/><polygon points="596.6,315.7 596.2,316.0 595.3,316.7 593.8,317.8 592.2,319.2 590.6,320.8 589.4,322.4 588.7,323.9 588.8,325.1 589.4,326.3 589.8,326.0 590.7,325.3 592.2,324.2 593.8,322.8 595.4,321.2 596.6,319.6 597.3,318.1 597.2,316.9" fill="#d9bfc3" stroke="#c4a8ad" stroke-width="0.5" stroke-linejoin="round"/><polygon points="601.0,325.0 600.7,325.3 599.7,326.1 598.3,327.2 596.6,328.6 595.0,330.1 593.8,331.7 593.2,333.2 593.3,334.4 593.9,335.7 594.2,335.3 595.2,334.6 596.6,333.5 598.3,332.1 599.9,330.5 601.1,328.9 601.7,327.5 601.6,326.3" fill="#d9bfc3" stroke="#c4a8ad" stroke-width="0.5" stroke-linejoin="round"/><polygon points="605.4,334.3 605.1,334.7 604.2,335.4 602.7,336.5 601.0,337.9 599.5,339.5 598.2,341.1 597.6,342.5 597.7,343.7 598.3,345.0 598.6,344.7 599.6,343.9 601.1,342.8 602.7,341.4 604.3,339.9 605.5,338.3 606.1,336.8 606.0,335.6" fill="#d9bfc3" stroke="#c4a8ad" stroke-width="0.5" stroke-linejoin="round"/><polygon points="540.1,336.5 540.5,336.8 541.2,337.8 542.1,339.4 543.2,341.3 544.5,343.1 545.8,344.5 546.9,345.4 547.9,345.5 548.7,345.2 548.4,344.9 547.7,343.9 546.8,342.3 545.6,340.5 544.4,338.7 543.1,337.2 541.9,336.3 541.0,336.2" fill="#b4969c" stroke="#b4969c" stroke-width="0.5" stroke-linejoin="round"/><polygon points="548.7,333.6 549.1,334.0 549.7,335.0 550.7,336.6 551.8,338.4 553.1,340.2 554.3,341.7 555.5,342.5 556.5,342.6 557.3,342.4 556.9,342.0 556.3,341.0 555.3,339.4 554.2,337.6 552.9,335.8 551.7,334.3 550.5,333.5 549.5,333.4" fill="#b4969c" stroke="#b4969c" stroke-width="0.5" stroke-linejoin="round"/><polygon points="557.3,330.8 557.6,331.1 558.3,332.1 559.2,333.7 560.4,335.5 561.6,337.3 562.9,338.8 564.1,339.7 565.0,339.8 565.9,339.5 565.5,339.2 564.8,338.2 563.9,336.6 562.8,334.7 561.5,332.9 560.2,331.5 559.1,330.6 558.1,330.5" fill="#b4969c" stroke="#b4969c" stroke-width="0.5" stroke-linejoin="round"/><polygon points="539.2,348.4 539.2,348.0 539.0,346.8 538.7,345.0 538.5,342.8 538.5,340.6 538.7,338.7 539.2,337.3 540.0,336.5 541.1,336.2 541.1,336.6 541.3,337.8 541.6,339.6 541.8,341.7 541.8,343.9 541.6,345.9 541.1,347.3 540.3,348.0" fill="#d9bfc3" stroke="#c4a8ad" stroke-width="0.5" stroke-linejoin="round"/><polygon points="547.7,345.6 547.7,345.1 547.6,343.9 547.3,342.1 547.1,340.0 547.0,337.8 547.2,335.8 547.7,334.4 548.5,333.7 549.7,333.3 549.7,333.7 549.9,334.9 550.1,336.7 550.3,338.9 550.4,341.1 550.2,343.0 549.7,344.5 548.9,345.2" fill="#d9bfc3" stroke="#c4a8ad" stroke-width="0.5" stroke-linejoin="round"/><polygon points="556.3,342.7 556.3,342.3 556.1,341.1 555.9,339.3 555.7,337.1 555.6,334.9 555.8,333.0 556.3,331.5 557.1,330.8 558.3,330.4 558.3,330.9 558.4,332.1 558.7,333.9 558.9,336.0 559.0,338.2 558.8,340.2 558.3,341.6 557.5,342.3" fill="#d9bfc3" stroke="#c4a8ad" stroke-width="0.5" stroke-linejoin="round"/><polygon points="564.9,339.8 564.9,339.4 564.7,338.2 564.4,336.4 564.2,334.3 564.2,332.1 564.4,330.1 564.9,328.7 565.7,328.0 566.8,327.6 566.8,328.0 567.0,329.2 567.3,331.0 567.5,333.2 567.5,335.4 567.3,337.3 566.8,338.7 566.0,339.5" fill="#d9bfc3" stroke="#c4a8ad" stroke-width="0.5" stroke-linejoin="round"/><path d="M529.3,339.5 C529.8,339.1 530.7,336.9 532.0,337.0 C533.3,337.1 536.2,339.5 537.0,340.0" fill="none" stroke="#cdaab0" stroke-width="1.1" stroke-linecap="round" stroke-linejoin="round" opacity="1"/><path d="M568.0,335.0 C568.7,336.1 570.7,338.8 572.0,341.4 C573.3,344.0 574.5,348.5 575.7,350.7 C576.9,352.9 577.5,354.4 579.4,354.4 C581.2,354.4 584.6,352.6 586.8,350.7 C589.0,348.8 591.8,345.4 592.4,343.2 C593.0,341.0 590.8,338.6 590.5,337.7" fill="none" stroke="#cdaab0" stroke-width="1.2" stroke-linecap="round" stroke-linejoin="round" opacity="1"/><path d="M582.0,276.0 C582.7,275.5 584.7,272.7 586.0,273.0 C587.3,273.3 588.3,277.7 590.0,278.0 C591.7,278.3 595.3,274.2 596.0,275.0 C596.7,275.8 595.3,281.3 594.0,283.0 C592.7,284.7 589.3,285.7 588.0,285.0 C586.7,284.3 586.3,280.0 586.0,279.0" fill="none" stroke="#c8c820" stroke-width="1.3" stroke-linecap="round" stroke-linejoin="round" opacity="1"/><path d="M572.0,272.0 C573.0,272.5 576.2,273.8 578.0,275.0 C579.8,276.2 582.2,278.3 583.0,279.0" fill="none" stroke="#d83a3a" stroke-width="1.0" stroke-linecap="round" stroke-linejoin="round" opacity="1"/><circle cx="574.0" cy="271.0" r="0.9" fill="#e02020"/><circle cx="580.0" cy="276.0" r="0.9" fill="#e02020"/><circle cx="596.0" cy="275.0" r="0.9" fill="#e02020"/><circle cx="598.0" cy="284.0" r="0.9" fill="#e02020"/><circle cx="584.0" cy="286.0" r="0.9" fill="#e02020"/><circle cx="591.0" cy="272.0" r="0.9" fill="#e02020"/><path d="M583.0,288.0 C583.8,288.3 586.8,288.7 588.0,290.0 C589.2,291.3 590.5,294.3 590.0,296.0 C589.5,297.7 586.5,299.8 585.0,300.0 C583.5,300.2 581.3,298.3 581.0,297.0 C580.7,295.7 582.7,292.8 583.0,292.0" fill="none" stroke="#c8c820" stroke-width="1.3" stroke-linecap="round" stroke-linejoin="round" opacity="1"/><circle cx="585.0" cy="292.0" r="0.9" fill="#2050e0"/><circle cx="588.0" cy="296.0" r="0.9" fill="#2050e0"/><circle cx="580.0" cy="301.0" r="0.9" fill="#e02020"/></g>
<rect x="335.5" y="167.5" width="148.5" height="207" fill="none" stroke="#5a5aa8" stroke-width="1.3"/>
<rect x="489.1" y="167.3" width="148.3" height="207.2" fill="none" stroke="#ec4fa2" stroke-width="1.6"/>
<g class="sans">
<text x="342.9" y="367.2" font-size="10.1" font-weight="bold" fill="#2a2a2a">ABL1</text>
<text x="496.9" y="367.5" font-size="10.3" font-weight="bold" fill="#2a2a2a" letter-spacing="0.5">DCK</text>
</g>
</svg>
</body></html>
